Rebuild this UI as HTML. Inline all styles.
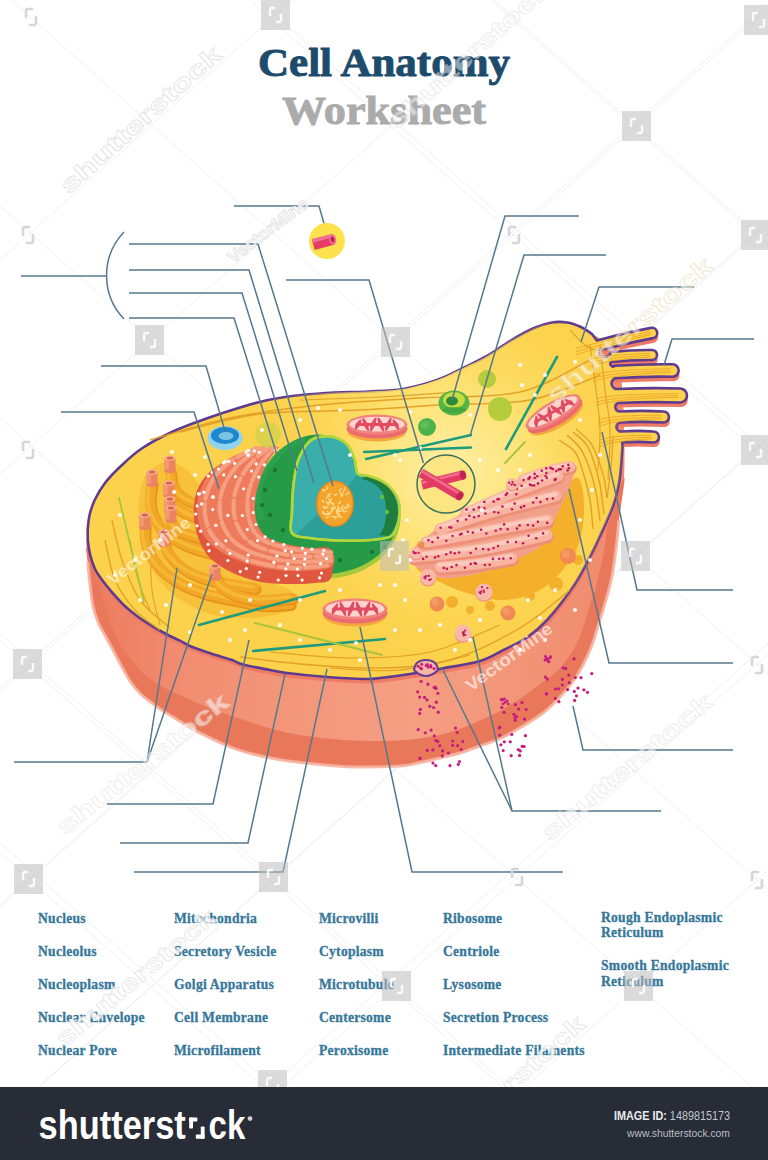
<!DOCTYPE html>
<html><head><meta charset="utf-8"><title>Cell Anatomy Worksheet</title>
<style>
html,body{margin:0;padding:0;background:#fff;}
body{width:768px;height:1160px;overflow:hidden;position:relative;font-family:"Liberation Sans",sans-serif;}
svg{position:absolute;left:0;top:0;}
.footer{position:absolute;left:0;top:1087px;width:768px;height:73px;background:#272c36;}
</style></head><body>
<svg width="768" height="1160" viewBox="0 0 768 1160">
<defs>
<radialGradient id="glow" cx="450" cy="470" r="190" gradientUnits="userSpaceOnUse">
<stop offset="0" stop-color="#fff0a6"/><stop offset="0.45" stop-color="#fde171"/><stop offset="1" stop-color="#fcd24c" stop-opacity="0"/></radialGradient>
<linearGradient id="salm" x1="0" y1="0" x2="1" y2="0">
<stop offset="0" stop-color="#ec7a5d"/><stop offset="0.18" stop-color="#f28d71"/><stop offset="0.6" stop-color="#f59f83"/><stop offset="1" stop-color="#f08a6c"/></linearGradient>
<clipPath id="mvclip"><rect x="613" y="300" width="100" height="160"/></clipPath>
</defs>

<g stroke="#e6e6e6" stroke-width="1" opacity="0.55"><line x1="-10" y1="-238.9" x2="780" y2="464.2"/><line x1="-10" y1="268.9" x2="780" y2="-434.2"/><line x1="-10" y1="-448.9" x2="780" y2="254.2"/><line x1="-10" y1="700.9" x2="780" y2="-2.2"/><line x1="-10" y1="-445.9" x2="780" y2="257.2"/><line x1="-10" y1="915.9" x2="780" y2="212.8"/><line x1="-10" y1="197.1" x2="780" y2="900.2"/><line x1="-10" y1="482.9" x2="780" y2="-220.2"/><line x1="-10" y1="-18.9" x2="780" y2="684.2"/><line x1="-10" y1="-230.9" x2="780" y2="472.2"/><line x1="-10" y1="1130.9" x2="780" y2="427.8"/><line x1="-10" y1="1129.9" x2="780" y2="426.8"/><line x1="-10" y1="631.1" x2="780" y2="1334.2"/><line x1="-10" y1="696.9" x2="780" y2="-6.2"/><line x1="-10" y1="844.1" x2="780" y2="1547.2"/><line x1="-10" y1="913.9" x2="780" y2="210.8"/><line x1="-10" y1="625.1" x2="780" y2="1328.2"/><line x1="-10" y1="1346.9" x2="780" y2="643.8"/><line x1="-10" y1="409.1" x2="780" y2="1112.2"/><line x1="-10" y1="1562.9" x2="780" y2="859.8"/><line x1="-10" y1="834.1" x2="780" y2="1537.2"/><line x1="-10" y1="1335.9" x2="780" y2="632.8"/></g>
<path d="M86.5,548.0 C86.5,542.3 87.2,533.7 87.8,528.0 C88.3,522.3 88.6,518.7 89.8,514.0 C91.0,509.3 92.2,505.2 94.7,500.0 C97.2,494.8 100.5,488.8 105.0,483.0 C109.5,477.2 115.8,470.8 122.0,465.0 C128.2,459.2 133.8,453.7 142.5,448.0 C151.2,442.3 163.6,435.8 174.0,431.0 C184.4,426.2 194.0,422.9 205.0,419.0 C216.0,415.1 229.5,410.7 240.0,407.5 C250.5,404.3 257.7,402.1 268.0,400.0 C278.3,397.9 290.8,396.2 302.0,395.0 C313.2,393.8 323.8,393.1 335.0,392.5 C346.2,391.9 357.7,392.1 369.0,391.5 C380.3,390.9 391.7,390.9 403.0,389.0 C414.3,387.1 427.0,383.5 437.0,380.0 C447.0,376.5 454.7,372.0 463.0,368.0 C471.3,364.0 479.2,360.5 487.0,356.0 C494.8,351.5 502.2,345.7 510.0,341.0 C517.8,336.3 527.0,331.1 534.0,328.0 C541.0,324.9 546.5,323.4 552.0,322.5 C557.5,321.6 562.2,321.8 567.0,322.5 C571.8,323.2 576.8,325.1 581.0,327.0 C585.2,328.9 588.5,331.8 592.0,334.0 C595.5,336.2 598.7,337.3 602.0,340.0 C605.3,342.7 609.0,345.0 612.0,350.0 C615.0,355.0 618.2,361.7 620.0,370.0 C621.8,378.3 622.3,390.8 623.0,400.0 C623.7,409.2 623.8,416.7 624.0,425.0 C624.2,433.3 624.5,441.2 624.5,450.0 C624.5,458.8 624.6,468.8 624.0,478.0 C623.4,487.2 621.9,498.0 621.0,505.0 C620.1,512.0 619.7,512.7 618.9,520.0 C618.1,527.3 617.2,539.2 616.0,548.7 C614.8,558.2 613.4,568.8 611.7,577.3 C610.0,585.8 608.2,592.3 606.0,600.0 C603.8,607.7 601.1,615.9 598.8,623.4 C596.4,630.9 594.5,638.4 592.0,645.0 C589.5,651.6 587.0,657.2 584.0,663.0 C581.0,668.8 578.0,674.3 574.0,680.0 C570.0,685.7 565.2,691.5 560.0,697.0 C554.8,702.5 549.2,708.2 543.0,713.0 C536.8,717.8 529.8,721.9 523.0,726.0 C516.2,730.1 509.4,734.3 502.5,737.5 C495.6,740.7 488.6,742.9 481.7,745.4 C474.8,747.9 467.8,750.6 460.8,752.7 C453.9,754.8 447.1,756.3 440.0,758.0 C432.9,759.7 424.7,761.7 418.0,763.0 C411.3,764.3 410.7,765.3 400.0,766.0 C389.3,766.7 368.2,767.3 354.0,767.0 C339.8,766.7 328.0,765.3 315.0,764.0 C302.0,762.7 288.9,761.4 275.8,759.0 C262.8,756.6 249.1,753.6 236.7,749.4 C224.3,745.2 212.2,739.1 201.6,733.8 C191.0,728.4 179.5,720.9 173.0,717.0 C166.5,713.1 166.0,712.9 162.5,710.6 C159.0,708.3 155.5,705.6 152.0,703.0 C148.5,700.4 145.2,698.4 141.7,695.0 C138.2,691.6 134.3,687.2 131.0,682.5 C127.7,677.8 124.9,672.2 122.0,667.0 C119.1,661.8 116.2,656.0 113.5,651.0 C110.8,646.0 108.6,641.8 106.0,637.0 C103.4,632.2 100.2,627.3 98.0,622.0 C95.8,616.7 94.2,612.0 92.8,605.0 C91.4,598.0 90.3,587.2 89.5,580.0 C88.7,572.8 88.3,567.3 87.8,562.0 C87.3,556.7 86.5,553.7 86.5,548.0 Z" fill="url(#salm)"/>
<path d="M86.5,548.0 C85.6,546.8 87.3,556.7 87.8,562.0 C88.3,567.3 88.7,572.8 89.5,580.0 C90.3,587.2 91.4,598.0 92.8,605.0 C94.2,612.0 95.8,616.7 98.0,622.0 C100.2,627.3 103.4,632.2 106.0,637.0 C108.6,641.8 110.8,646.0 113.5,651.0 C116.2,656.0 119.1,661.8 122.0,667.0 C124.9,672.2 127.7,677.8 131.0,682.5 C134.3,687.2 138.2,691.6 141.7,695.0 C145.2,698.4 148.5,700.4 152.0,703.0 C155.5,705.6 159.0,708.3 162.5,710.6 C166.0,712.9 166.5,713.1 173.0,717.0 C179.5,720.9 191.0,728.4 201.6,733.8 C212.2,739.1 224.3,745.2 236.7,749.4 C249.1,753.6 262.8,756.6 275.8,759.0 C288.9,761.4 302.0,762.7 315.0,764.0 C328.0,765.3 339.8,766.7 354.0,767.0 C368.2,767.3 392.3,766.2 400.0,766.0 C407.7,765.8 397.0,766.5 400.0,766.0 C403.0,765.5 411.3,764.3 418.0,763.0 C424.7,761.7 432.9,759.7 440.0,758.0 C447.1,756.3 453.9,754.8 460.8,752.7 C467.8,750.6 474.8,747.9 481.7,745.4 C488.6,742.9 495.6,740.7 502.5,737.5 C509.4,734.3 516.2,730.1 523.0,726.0 C529.8,721.9 536.8,717.8 543.0,713.0 C549.2,708.2 554.8,702.5 560.0,697.0 C565.2,691.5 570.0,685.7 574.0,680.0 C578.0,674.3 581.0,668.8 584.0,663.0 C587.0,657.2 589.5,651.6 592.0,645.0 C594.5,638.4 596.4,630.9 598.8,623.4 C601.1,615.9 603.8,607.7 606.0,600.0 C608.2,592.3 610.0,585.8 611.7,577.3 C613.4,568.8 614.8,558.2 616.0,548.7 C617.2,539.2 618.1,527.3 618.9,520.0 C619.7,512.7 620.1,512.0 621.0,505.0 C621.9,498.0 626.0,475.5 624.0,478.0 C622.0,480.5 612.2,508.2 609.0,520.0 C605.8,531.8 606.0,540.7 604.5,549.0 C603.0,557.3 601.7,562.8 600.0,570.0 C598.3,577.2 596.3,585.7 594.5,592.0 C592.7,598.3 590.9,602.0 589.0,608.0 C587.1,614.0 585.2,621.8 583.0,628.0 C580.8,634.2 578.8,639.5 576.0,645.0 C573.2,650.5 569.5,656.3 566.0,661.0 C562.5,665.7 559.5,669.0 555.0,673.0 C550.5,677.0 544.7,680.8 539.0,685.0 C533.3,689.2 527.5,693.7 521.0,698.0 C514.5,702.3 506.7,707.3 500.0,711.0 C493.3,714.7 487.5,717.1 481.0,720.0 C474.5,722.9 467.8,726.0 461.0,728.5 C454.2,731.0 447.7,733.2 440.0,735.0 C432.3,736.8 424.0,738.0 415.0,739.0 C406.0,740.0 398.0,740.8 386.0,741.0 C374.0,741.2 357.3,741.0 343.0,740.0 C328.7,739.0 313.0,737.2 300.0,735.0 C287.0,732.8 274.3,729.5 265.0,727.0 C255.7,724.5 251.0,722.3 244.0,720.0 C237.0,717.7 230.0,715.5 223.0,713.0 C216.0,710.5 208.8,707.8 202.0,705.0 C195.2,702.2 186.8,698.2 182.0,696.0 C177.2,693.8 176.2,693.5 173.0,692.0 C169.8,690.5 166.0,688.6 162.5,686.7 C159.0,684.8 155.5,682.9 152.0,680.4 C148.5,677.9 145.2,675.5 141.7,672.0 C138.2,668.5 134.7,663.9 131.2,659.6 C127.8,655.3 123.9,651.3 120.8,646.0 C117.7,640.7 115.0,634.2 112.5,628.0 C110.0,621.8 108.2,615.7 106.0,609.0 C103.8,602.3 101.2,594.7 99.0,588.0 C96.8,581.3 95.1,575.7 93.0,569.0 C90.9,562.3 87.4,549.2 86.5,548.0 Z" fill="#e9775a"/>
<path d="M618.9,520.0 C618.4,524.8 617.2,539.2 616.0,548.7 C614.8,558.2 613.4,568.8 611.7,577.3 C610.0,585.8 608.2,592.3 606.0,600.0 C603.8,607.7 601.1,615.9 598.8,623.4 C596.4,630.9 594.5,638.4 592.0,645.0 C589.5,651.6 587.0,657.2 584.0,663.0 C581.0,668.8 578.0,674.3 574.0,680.0 C570.0,685.7 565.2,691.5 560.0,697.0 C554.8,702.5 549.2,708.2 543.0,713.0 C536.8,717.8 529.8,721.9 523.0,726.0 C516.2,730.1 509.4,734.3 502.5,737.5 C495.6,740.7 488.6,742.9 481.7,745.4 C474.8,747.9 467.8,750.6 460.8,752.7 C453.9,754.8 447.1,756.3 440.0,758.0 C432.9,759.7 424.7,761.7 418.0,763.0 C411.3,764.3 410.7,765.3 400.0,766.0 C389.3,766.7 368.2,767.3 354.0,767.0 C339.8,766.7 328.0,765.3 315.0,764.0 C302.0,762.7 288.9,761.4 275.8,759.0 C262.8,756.6 249.1,753.6 236.7,749.4 C224.3,745.2 212.2,739.1 201.6,733.8 C191.0,728.4 179.5,720.9 173.0,717.0 C166.5,713.1 166.0,712.9 162.5,710.6 C159.0,708.3 155.5,705.6 152.0,703.0 C148.5,700.4 145.2,698.4 141.7,695.0 C138.2,691.6 134.3,687.2 131.0,682.5 C127.7,677.8 124.9,672.2 122.0,667.0 C119.1,661.8 116.2,656.0 113.5,651.0 C110.8,646.0 108.6,641.8 106.0,637.0 C103.4,632.2 100.2,627.3 98.0,622.0 C95.8,616.7 94.2,612.0 92.8,605.0 C91.4,598.0 90.3,587.2 89.5,580.0 C88.7,572.8 88.1,565.0 87.8,562.0" fill="none" stroke="#f7b3a0" stroke-width="3" opacity="0.9"/>
<path d="M87.8,541.0 C87.8,538.8 87.5,532.5 87.8,528.0 C88.1,523.5 88.6,518.7 89.8,514.0 C91.0,509.3 92.2,505.2 94.7,500.0 C97.2,494.8 100.5,488.8 105.0,483.0 C109.5,477.2 115.8,470.8 122.0,465.0 C128.2,459.2 133.8,453.7 142.5,448.0 C151.2,442.3 163.6,435.8 174.0,431.0 C184.4,426.2 194.0,422.9 205.0,419.0 C216.0,415.1 229.5,410.7 240.0,407.5 C250.5,404.3 257.7,402.1 268.0,400.0 C278.3,397.9 290.8,396.2 302.0,395.0 C313.2,393.8 323.8,393.1 335.0,392.5 C346.2,391.9 357.7,392.1 369.0,391.5 C380.3,390.9 391.7,390.9 403.0,389.0 C414.3,387.1 427.0,383.5 437.0,380.0 C447.0,376.5 454.7,372.0 463.0,368.0 C471.3,364.0 479.2,360.5 487.0,356.0 C494.8,351.5 502.2,345.7 510.0,341.0 C517.8,336.3 527.0,331.1 534.0,328.0 C541.0,324.9 546.5,323.4 552.0,322.5 C557.5,321.6 562.2,321.8 567.0,322.5 C571.8,323.2 576.8,325.1 581.0,327.0 C585.2,328.9 590.2,332.8 592.0,334.0 L596.8,340.4 Q623.6,333.0 650.8,327.9 A5.2,5.2 0 0 1 653.2,338.1 Q625.9,343.1 599.2,350.6 A5.8,5.8 0 0 0 610.8,352.0 Q631.2,349.8 651.8,350.0 A5.0,5.0 0 0 1 652.2,360.0 Q631.7,359.8 611.2,362.0 A2.6,2.6 0 0 0 614.8,365.8 Q643.6,363.9 672.3,364.3 A6.2,6.2 0 0 1 672.7,376.7 Q643.9,376.2 615.2,378.2 A5.6,5.6 0 0 0 617.9,389.0 Q648.9,387.6 679.9,388.5 A7.0,7.0 0 0 1 680.1,402.5 Q649.0,401.5 618.1,403.0 A4.4,4.4 0 0 0 620.0,411.5 Q641.8,410.3 663.5,411.5 A5.5,5.5 0 0 1 663.5,422.5 Q641.8,421.3 620.0,422.5 A4.6,4.6 0 0 0 622.0,431.5 Q637.8,430.3 653.5,431.5 A5.5,5.5 0 0 1 653.5,442.5 Q637.8,441.3 622.0,442.5 L622.5,446.0 C622.0,451.7 621.1,470.0 619.5,480.0 C617.9,490.0 616.7,495.8 613.0,506.0 C609.3,516.2 601.9,531.8 597.4,541.5 C592.9,551.2 590.3,556.5 586.0,564.4 C581.7,572.3 578.1,579.5 571.6,588.8 C565.1,598.1 554.4,611.9 547.0,620.0 C539.6,628.1 534.3,632.5 527.0,637.5 C519.7,642.5 511.2,646.1 503.4,650.0 C495.6,653.9 490.2,657.9 480.0,661.0 C469.8,664.1 453.7,666.3 442.0,668.5 C430.3,670.7 420.3,672.4 410.0,674.0 C399.7,675.6 387.5,677.2 380.0,678.0 C372.5,678.8 373.8,679.2 365.0,679.0 C356.2,678.8 340.0,678.0 327.0,677.0 C314.0,676.0 296.5,674.2 287.0,673.0 C277.5,671.8 277.3,671.4 270.0,670.0 C262.7,668.6 249.3,666.2 243.0,664.5 C236.7,662.8 237.3,661.8 232.0,660.0 C226.7,658.2 218.0,655.8 211.0,653.5 C204.0,651.2 195.2,648.1 190.0,646.0 C184.8,643.9 183.8,642.6 180.0,640.7 C176.2,638.8 171.1,636.6 167.0,634.5 C162.9,632.4 160.1,630.9 155.6,628.2 C151.1,625.5 144.8,621.8 140.0,618.3 C135.2,614.8 129.8,610.3 126.5,607.5 C123.2,604.7 122.8,604.1 120.2,601.3 C117.6,598.5 113.8,594.3 110.8,590.8 C107.8,587.3 105.1,584.0 102.5,580.4 C99.9,576.8 97.0,573.2 95.0,569.0 C93.0,564.8 91.4,559.7 90.2,555.0 C89.0,550.3 88.2,543.3 87.8,541.0 Z" fill="#ee7b66" transform="translate(0.8,4.6)"/>
<path d="M87.8,541.0 C87.8,538.8 87.5,532.5 87.8,528.0 C88.1,523.5 88.6,518.7 89.8,514.0 C91.0,509.3 92.2,505.2 94.7,500.0 C97.2,494.8 100.5,488.8 105.0,483.0 C109.5,477.2 115.8,470.8 122.0,465.0 C128.2,459.2 133.8,453.7 142.5,448.0 C151.2,442.3 163.6,435.8 174.0,431.0 C184.4,426.2 194.0,422.9 205.0,419.0 C216.0,415.1 229.5,410.7 240.0,407.5 C250.5,404.3 257.7,402.1 268.0,400.0 C278.3,397.9 290.8,396.2 302.0,395.0 C313.2,393.8 323.8,393.1 335.0,392.5 C346.2,391.9 357.7,392.1 369.0,391.5 C380.3,390.9 391.7,390.9 403.0,389.0 C414.3,387.1 427.0,383.5 437.0,380.0 C447.0,376.5 454.7,372.0 463.0,368.0 C471.3,364.0 479.2,360.5 487.0,356.0 C494.8,351.5 502.2,345.7 510.0,341.0 C517.8,336.3 527.0,331.1 534.0,328.0 C541.0,324.9 546.5,323.4 552.0,322.5 C557.5,321.6 562.2,321.8 567.0,322.5 C571.8,323.2 576.8,325.1 581.0,327.0 C585.2,328.9 590.2,332.8 592.0,334.0 L596.8,340.4 Q623.6,333.0 650.8,327.9 A5.2,5.2 0 0 1 653.2,338.1 Q625.9,343.1 599.2,350.6 A5.8,5.8 0 0 0 610.8,352.0 Q631.2,349.8 651.8,350.0 A5.0,5.0 0 0 1 652.2,360.0 Q631.7,359.8 611.2,362.0 A2.6,2.6 0 0 0 614.8,365.8 Q643.6,363.9 672.3,364.3 A6.2,6.2 0 0 1 672.7,376.7 Q643.9,376.2 615.2,378.2 A5.6,5.6 0 0 0 617.9,389.0 Q648.9,387.6 679.9,388.5 A7.0,7.0 0 0 1 680.1,402.5 Q649.0,401.5 618.1,403.0 A4.4,4.4 0 0 0 620.0,411.5 Q641.8,410.3 663.5,411.5 A5.5,5.5 0 0 1 663.5,422.5 Q641.8,421.3 620.0,422.5 A4.6,4.6 0 0 0 622.0,431.5 Q637.8,430.3 653.5,431.5 A5.5,5.5 0 0 1 653.5,442.5 Q637.8,441.3 622.0,442.5 L622.5,446.0 C622.0,451.7 621.1,470.0 619.5,480.0 C617.9,490.0 616.7,495.8 613.0,506.0 C609.3,516.2 601.9,531.8 597.4,541.5 C592.9,551.2 590.3,556.5 586.0,564.4 C581.7,572.3 578.1,579.5 571.6,588.8 C565.1,598.1 554.4,611.9 547.0,620.0 C539.6,628.1 534.3,632.5 527.0,637.5 C519.7,642.5 511.2,646.1 503.4,650.0 C495.6,653.9 490.2,657.9 480.0,661.0 C469.8,664.1 453.7,666.3 442.0,668.5 C430.3,670.7 420.3,672.4 410.0,674.0 C399.7,675.6 387.5,677.2 380.0,678.0 C372.5,678.8 373.8,679.2 365.0,679.0 C356.2,678.8 340.0,678.0 327.0,677.0 C314.0,676.0 296.5,674.2 287.0,673.0 C277.5,671.8 277.3,671.4 270.0,670.0 C262.7,668.6 249.3,666.2 243.0,664.5 C236.7,662.8 237.3,661.8 232.0,660.0 C226.7,658.2 218.0,655.8 211.0,653.5 C204.0,651.2 195.2,648.1 190.0,646.0 C184.8,643.9 183.8,642.6 180.0,640.7 C176.2,638.8 171.1,636.6 167.0,634.5 C162.9,632.4 160.1,630.9 155.6,628.2 C151.1,625.5 144.8,621.8 140.0,618.3 C135.2,614.8 129.8,610.3 126.5,607.5 C123.2,604.7 122.8,604.1 120.2,601.3 C117.6,598.5 113.8,594.3 110.8,590.8 C107.8,587.3 105.1,584.0 102.5,580.4 C99.9,576.8 97.0,573.2 95.0,569.0 C93.0,564.8 91.4,559.7 90.2,555.0 C89.0,550.3 88.2,543.3 87.8,541.0 Z" fill="#fcd24c" stroke="#5f3b8f" stroke-width="2.6" stroke-linejoin="round"/>
<path d="M87.8,541.0 C87.8,538.8 87.5,532.5 87.8,528.0 C88.1,523.5 88.6,518.7 89.8,514.0 C91.0,509.3 92.2,505.2 94.7,500.0 C97.2,494.8 100.5,488.8 105.0,483.0 C109.5,477.2 115.8,470.8 122.0,465.0 C128.2,459.2 133.8,453.7 142.5,448.0 C151.2,442.3 163.6,435.8 174.0,431.0 C184.4,426.2 194.0,422.9 205.0,419.0 C216.0,415.1 229.5,410.7 240.0,407.5 C250.5,404.3 257.7,402.1 268.0,400.0 C278.3,397.9 290.8,396.2 302.0,395.0 C313.2,393.8 323.8,393.1 335.0,392.5 C346.2,391.9 357.7,392.1 369.0,391.5 C380.3,390.9 391.7,390.9 403.0,389.0 C414.3,387.1 427.0,383.5 437.0,380.0 C447.0,376.5 454.7,372.0 463.0,368.0 C471.3,364.0 479.2,360.5 487.0,356.0 C494.8,351.5 502.2,345.7 510.0,341.0 C517.8,336.3 527.0,331.1 534.0,328.0 C541.0,324.9 546.5,323.4 552.0,322.5 C557.5,321.6 562.2,321.8 567.0,322.5 C571.8,323.2 576.8,325.1 581.0,327.0 C585.2,328.9 590.2,332.8 592.0,334.0 L596.8,340.4 Q623.6,333.0 650.8,327.9 A5.2,5.2 0 0 1 653.2,338.1 Q625.9,343.1 599.2,350.6 A5.8,5.8 0 0 0 610.8,352.0 Q631.2,349.8 651.8,350.0 A5.0,5.0 0 0 1 652.2,360.0 Q631.7,359.8 611.2,362.0 A2.6,2.6 0 0 0 614.8,365.8 Q643.6,363.9 672.3,364.3 A6.2,6.2 0 0 1 672.7,376.7 Q643.9,376.2 615.2,378.2 A5.6,5.6 0 0 0 617.9,389.0 Q648.9,387.6 679.9,388.5 A7.0,7.0 0 0 1 680.1,402.5 Q649.0,401.5 618.1,403.0 A4.4,4.4 0 0 0 620.0,411.5 Q641.8,410.3 663.5,411.5 A5.5,5.5 0 0 1 663.5,422.5 Q641.8,421.3 620.0,422.5 A4.6,4.6 0 0 0 622.0,431.5 Q637.8,430.3 653.5,431.5 A5.5,5.5 0 0 1 653.5,442.5 Q637.8,441.3 622.0,442.5 L622.5,446.0 C622.0,451.7 621.1,470.0 619.5,480.0 C617.9,490.0 616.7,495.8 613.0,506.0 C609.3,516.2 601.9,531.8 597.4,541.5 C592.9,551.2 590.3,556.5 586.0,564.4 C581.7,572.3 578.1,579.5 571.6,588.8 C565.1,598.1 554.4,611.9 547.0,620.0 C539.6,628.1 534.3,632.5 527.0,637.5 C519.7,642.5 511.2,646.1 503.4,650.0 C495.6,653.9 490.2,657.9 480.0,661.0 C469.8,664.1 453.7,666.3 442.0,668.5 C430.3,670.7 420.3,672.4 410.0,674.0 C399.7,675.6 387.5,677.2 380.0,678.0 C372.5,678.8 373.8,679.2 365.0,679.0 C356.2,678.8 340.0,678.0 327.0,677.0 C314.0,676.0 296.5,674.2 287.0,673.0 C277.5,671.8 277.3,671.4 270.0,670.0 C262.7,668.6 249.3,666.2 243.0,664.5 C236.7,662.8 237.3,661.8 232.0,660.0 C226.7,658.2 218.0,655.8 211.0,653.5 C204.0,651.2 195.2,648.1 190.0,646.0 C184.8,643.9 183.8,642.6 180.0,640.7 C176.2,638.8 171.1,636.6 167.0,634.5 C162.9,632.4 160.1,630.9 155.6,628.2 C151.1,625.5 144.8,621.8 140.0,618.3 C135.2,614.8 129.8,610.3 126.5,607.5 C123.2,604.7 122.8,604.1 120.2,601.3 C117.6,598.5 113.8,594.3 110.8,590.8 C107.8,587.3 105.1,584.0 102.5,580.4 C99.9,576.8 97.0,573.2 95.0,569.0 C93.0,564.8 91.4,559.7 90.2,555.0 C89.0,550.3 88.2,543.3 87.8,541.0 Z" fill="url(#glow)"/>
<g fill="none" stroke="#eba11f" stroke-width="0.8"><path d="M576,348.2 Q594,343.3 650,331.24" /><path d="M576,351.95 Q594,345.8 650,333.24" /><path d="M576,355.1 Q594,347.9 650,334.92" /><path d="M589,359.7 Q607,354.8 650,353.24" /><path d="M589,363.45 Q607,357.3 650,355.24" /><path d="M589,366.6 Q607,359.4 650,356.92" /><path d="M593,374.7 Q611,369.8 670.5,368.74" /><path d="M593,378.45 Q611,372.3 670.5,370.74" /><path d="M593,381.6 Q611,374.4 670.5,372.42" /><path d="M596,398.7 Q614,393.8 678,393.74" /><path d="M596,402.45 Q614,396.3 678,395.74" /><path d="M596,405.6 Q614,398.4 678,397.42" /><path d="M598,419.7 Q616,414.8 661.5,415.24" /><path d="M598,423.45 Q616,417.3 661.5,417.24" /><path d="M598,426.6 Q616,419.4 661.5,418.92" /><path d="M600,439.7 Q618,434.8 651.5,435.24" /><path d="M600,443.45 Q618,437.3 651.5,437.24" /><path d="M600,446.6 Q618,439.4 651.5,438.92" /></g>
<g><path d="M150.0,440.0 C163.3,436.3 201.7,423.8 230.0,418.0 C258.3,412.2 288.3,408.3 320.0,405.0 C351.7,401.7 386.7,400.2 420.0,398.0 C453.3,395.8 491.7,398.3 520.0,392.0 C548.3,385.7 578.3,365.3 590.0,360.0" fill="none" stroke="#e09b22" stroke-width="1.43" opacity="0.9"/><path d="M180.0,432.0 C193.3,429.0 230.0,417.7 260.0,414.0 C290.0,410.3 330.0,411.5 360.0,410.0 C390.0,408.5 411.7,406.7 440.0,405.0 C468.3,403.3 503.3,405.0 530.0,400.0 C556.7,395.0 588.3,379.2 600.0,375.0" fill="none" stroke="#e09b22" stroke-width="1.43" opacity="0.9"/><path d="M300.0,400.0 C313.3,399.5 353.3,398.3 380.0,397.0 C406.7,395.7 446.7,392.8 460.0,392.0" fill="none" stroke="#e09b22" stroke-width="1.17" opacity="0.9"/><path d="M240.0,657.0 C250.0,658.2 276.7,662.2 300.0,664.0 C323.3,665.8 355.0,668.7 380.0,668.0 C405.0,667.3 426.7,666.7 450.0,660.0 C473.3,653.3 500.0,639.7 520.0,628.0 C540.0,616.3 561.7,596.3 570.0,590.0" fill="none" stroke="#e09b22" stroke-width="1.43" opacity="0.9"/><path d="M270.0,652.0 C283.3,653.0 323.3,658.0 350.0,658.0 C376.7,658.0 405.0,657.5 430.0,652.0 C455.0,646.5 488.3,629.5 500.0,625.0" fill="none" stroke="#e09b22" stroke-width="1.17" opacity="0.9"/><path d="M330.0,668.0 C341.7,668.3 376.7,672.2 400.0,670.0 C423.3,667.8 458.3,657.5 470.0,655.0" fill="none" stroke="#e09b22" stroke-width="1.17" opacity="0.9"/><path d="M105.0,540.0 C106.7,546.7 110.0,568.3 115.0,580.0 C120.0,591.7 127.5,601.7 135.0,610.0 C142.5,618.3 155.8,626.7 160.0,630.0" fill="none" stroke="#e09b22" stroke-width="1.30" opacity="0.9"/><path d="M112.0,520.0 C113.7,526.7 117.3,546.7 122.0,560.0 C126.7,573.3 132.0,588.7 140.0,600.0 C148.0,611.3 165.0,623.3 170.0,628.0" fill="none" stroke="#e09b22" stroke-width="1.30" opacity="0.9"/><path d="M130.0,540.0 C131.3,546.7 134.7,568.3 138.0,580.0 C141.3,591.7 148.0,605.0 150.0,610.0" fill="none" stroke="#e09b22" stroke-width="1.17" opacity="0.9"/><path d="M150.0,540.0 C150.3,548.3 150.3,575.8 152.0,590.0 C153.7,604.2 158.7,619.2 160.0,625.0" fill="none" stroke="#e09b22" stroke-width="1.17" opacity="0.9"/><path d="M559.0,440.0 C561.7,442.0 571.0,446.7 575.0,452.0 C579.0,457.3 580.5,464.0 583.0,472.0 C585.5,480.0 588.3,490.5 590.0,500.0 C591.7,509.5 592.5,524.2 593.0,529.0" fill="none" stroke="#e09b22" stroke-width="1.43" opacity="0.9"/><path d="M567.0,435.0 C569.2,437.2 576.3,442.7 580.0,448.0 C583.7,453.3 586.3,459.7 589.0,467.0 C591.7,474.3 594.2,483.0 596.0,492.0 C597.8,501.0 599.3,516.2 600.0,521.0" fill="none" stroke="#e09b22" stroke-width="1.43" opacity="0.9"/><path d="M573.0,432.0 C575.2,434.0 582.7,439.5 586.0,444.0 C589.3,448.5 590.7,452.2 593.0,459.0 C595.3,465.8 598.2,475.8 600.0,485.0 C601.8,494.2 603.3,509.2 604.0,514.0" fill="none" stroke="#e09b22" stroke-width="1.43" opacity="0.9"/><path d="M576.0,429.0 C578.3,431.2 586.3,437.0 590.0,442.0 C593.7,447.0 595.7,453.0 598.0,459.0 C600.3,465.0 602.5,471.5 604.0,478.0 C605.5,484.5 606.5,494.7 607.0,498.0" fill="none" stroke="#e09b22" stroke-width="1.30" opacity="0.9"/><path d="M613.0,436.0 C612.7,441.2 612.0,456.7 611.0,467.0 C610.0,477.3 607.7,492.8 607.0,498.0" fill="none" stroke="#e09b22" stroke-width="1.30" opacity="0.9"/><path d="M600.0,345.0 C600.8,352.5 603.3,375.8 605.0,390.0 C606.7,404.2 609.5,415.0 610.0,430.0 C610.5,445.0 608.3,471.7 608.0,480.0" fill="none" stroke="#e09b22" stroke-width="1.17" opacity="0.9"/><path d="M590.0,345.0 C591.0,352.5 594.3,375.8 596.0,390.0 C597.7,404.2 599.7,416.7 600.0,430.0 C600.3,443.3 598.3,463.3 598.0,470.0" fill="none" stroke="#e09b22" stroke-width="1.17" opacity="0.9"/><path d="M570.0,330.0 C572.5,332.5 580.0,341.3 585.0,345.0 C590.0,348.7 597.5,350.8 600.0,352.0" fill="none" stroke="#e09b22" stroke-width="1.17" opacity="0.9"/></g>
<path d="M150.0,470.0 C155.0,465.0 163.0,461.2 170.0,462.0 C177.0,462.8 186.2,468.7 192.0,475.0 C197.8,481.3 201.2,489.2 205.0,500.0 C208.8,510.8 210.0,529.2 215.0,540.0 C220.0,550.8 227.2,558.3 235.0,565.0 C242.8,571.7 252.8,575.8 262.0,580.0 C271.2,584.2 285.0,585.3 290.0,590.0 C295.0,594.7 295.3,603.7 292.0,608.0 C288.7,612.3 278.7,614.3 270.0,616.0 C261.3,617.7 250.0,618.3 240.0,618.0 C230.0,617.7 219.3,616.7 210.0,614.0 C200.7,611.3 192.0,607.0 184.0,602.0 C176.0,597.0 168.3,591.7 162.0,584.0 C155.7,576.3 149.8,565.8 146.0,556.0 C142.2,546.2 140.0,535.7 139.0,525.0 C138.0,514.3 138.2,501.2 140.0,492.0 C141.8,482.8 145.0,475.0 150.0,470.0 Z" fill="#f7bf38" opacity="0.9"/>
<path d="M170.0,471.0 C170.5,473.5 170.7,481.5 173.0,486.0 C175.3,490.5 179.5,494.8 184.0,498.0 C188.5,501.2 197.3,503.8 200.0,505.0" fill="none" stroke="#e5931d" stroke-width="11" stroke-linecap="round" transform="translate(1.2,1.6)"/>
<path d="M170.0,471.0 C170.5,473.5 170.7,481.5 173.0,486.0 C175.3,490.5 179.5,494.8 184.0,498.0 C188.5,501.2 197.3,503.8 200.0,505.0" fill="none" stroke="#f2a726" stroke-width="10" stroke-linecap="round"/>
<path d="M170.0,471.0 C170.5,473.5 170.7,481.5 173.0,486.0 C175.3,490.5 179.5,494.8 184.0,498.0 C188.5,501.2 197.3,503.8 200.0,505.0" fill="none" stroke="#f6b936" stroke-width="3.5" stroke-linecap="round" transform="translate(-2.2,-1.2)"/>
<path d="M152.0,483.0 C151.7,485.8 149.8,494.7 150.0,500.0 C150.2,505.3 150.8,510.0 153.0,515.0 C155.2,520.0 158.5,525.5 163.0,530.0 C167.5,534.5 173.8,538.7 180.0,542.0 C186.2,545.3 192.5,547.7 200.0,550.0 C207.5,552.3 220.8,555.0 225.0,556.0" fill="none" stroke="#e5931d" stroke-width="11" stroke-linecap="round" transform="translate(1.2,1.6)"/>
<path d="M152.0,483.0 C151.7,485.8 149.8,494.7 150.0,500.0 C150.2,505.3 150.8,510.0 153.0,515.0 C155.2,520.0 158.5,525.5 163.0,530.0 C167.5,534.5 173.8,538.7 180.0,542.0 C186.2,545.3 192.5,547.7 200.0,550.0 C207.5,552.3 220.8,555.0 225.0,556.0" fill="none" stroke="#f2a726" stroke-width="10" stroke-linecap="round"/>
<path d="M152.0,483.0 C151.7,485.8 149.8,494.7 150.0,500.0 C150.2,505.3 150.8,510.0 153.0,515.0 C155.2,520.0 158.5,525.5 163.0,530.0 C167.5,534.5 173.8,538.7 180.0,542.0 C186.2,545.3 192.5,547.7 200.0,550.0 C207.5,552.3 220.8,555.0 225.0,556.0" fill="none" stroke="#f6b936" stroke-width="3.5" stroke-linecap="round" transform="translate(-2.2,-1.2)"/>
<path d="M169.0,494.0 C169.8,495.8 170.8,501.7 174.0,505.0 C177.2,508.3 182.8,511.5 188.0,514.0 C193.2,516.5 202.2,519.0 205.0,520.0" fill="none" stroke="#e5931d" stroke-width="11" stroke-linecap="round" transform="translate(1.2,1.6)"/>
<path d="M169.0,494.0 C169.8,495.8 170.8,501.7 174.0,505.0 C177.2,508.3 182.8,511.5 188.0,514.0 C193.2,516.5 202.2,519.0 205.0,520.0" fill="none" stroke="#f2a726" stroke-width="10" stroke-linecap="round"/>
<path d="M169.0,494.0 C169.8,495.8 170.8,501.7 174.0,505.0 C177.2,508.3 182.8,511.5 188.0,514.0 C193.2,516.5 202.2,519.0 205.0,520.0" fill="none" stroke="#f6b936" stroke-width="3.5" stroke-linecap="round" transform="translate(-2.2,-1.2)"/>
<path d="M171.0,522.0 C172.2,523.3 174.2,527.7 178.0,530.0 C181.8,532.3 188.7,534.3 194.0,536.0 C199.3,537.7 207.3,539.3 210.0,540.0" fill="none" stroke="#e5931d" stroke-width="11" stroke-linecap="round" transform="translate(1.2,1.6)"/>
<path d="M171.0,522.0 C172.2,523.3 174.2,527.7 178.0,530.0 C181.8,532.3 188.7,534.3 194.0,536.0 C199.3,537.7 207.3,539.3 210.0,540.0" fill="none" stroke="#f2a726" stroke-width="10" stroke-linecap="round"/>
<path d="M171.0,522.0 C172.2,523.3 174.2,527.7 178.0,530.0 C181.8,532.3 188.7,534.3 194.0,536.0 C199.3,537.7 207.3,539.3 210.0,540.0" fill="none" stroke="#f6b936" stroke-width="3.5" stroke-linecap="round" transform="translate(-2.2,-1.2)"/>
<path d="M145.0,525.0 C145.0,527.5 144.0,534.8 145.0,540.0 C146.0,545.2 147.8,550.7 151.0,556.0 C154.2,561.3 158.5,567.2 164.0,572.0 C169.5,576.8 176.7,581.3 184.0,585.0 C191.3,588.7 199.3,591.5 208.0,594.0 C216.7,596.5 227.0,598.2 236.0,600.0 C245.0,601.8 253.0,604.3 262.0,605.0 C271.0,605.7 285.3,604.2 290.0,604.0" fill="none" stroke="#e5931d" stroke-width="11" stroke-linecap="round" transform="translate(1.2,1.6)"/>
<path d="M145.0,525.0 C145.0,527.5 144.0,534.8 145.0,540.0 C146.0,545.2 147.8,550.7 151.0,556.0 C154.2,561.3 158.5,567.2 164.0,572.0 C169.5,576.8 176.7,581.3 184.0,585.0 C191.3,588.7 199.3,591.5 208.0,594.0 C216.7,596.5 227.0,598.2 236.0,600.0 C245.0,601.8 253.0,604.3 262.0,605.0 C271.0,605.7 285.3,604.2 290.0,604.0" fill="none" stroke="#f2a726" stroke-width="10" stroke-linecap="round"/>
<path d="M145.0,525.0 C145.0,527.5 144.0,534.8 145.0,540.0 C146.0,545.2 147.8,550.7 151.0,556.0 C154.2,561.3 158.5,567.2 164.0,572.0 C169.5,576.8 176.7,581.3 184.0,585.0 C191.3,588.7 199.3,591.5 208.0,594.0 C216.7,596.5 227.0,598.2 236.0,600.0 C245.0,601.8 253.0,604.3 262.0,605.0 C271.0,605.7 285.3,604.2 290.0,604.0" fill="none" stroke="#f6b936" stroke-width="3.5" stroke-linecap="round" transform="translate(-2.2,-1.2)"/>
<path d="M164.0,542.0 C164.7,543.8 165.3,549.0 168.0,553.0 C170.7,557.0 175.0,562.2 180.0,566.0 C185.0,569.8 190.5,573.2 198.0,576.0 C205.5,578.8 215.5,581.0 225.0,583.0 C234.5,585.0 250.0,587.2 255.0,588.0" fill="none" stroke="#e5931d" stroke-width="11" stroke-linecap="round" transform="translate(1.2,1.6)"/>
<path d="M164.0,542.0 C164.7,543.8 165.3,549.0 168.0,553.0 C170.7,557.0 175.0,562.2 180.0,566.0 C185.0,569.8 190.5,573.2 198.0,576.0 C205.5,578.8 215.5,581.0 225.0,583.0 C234.5,585.0 250.0,587.2 255.0,588.0" fill="none" stroke="#f2a726" stroke-width="10" stroke-linecap="round"/>
<path d="M164.0,542.0 C164.7,543.8 165.3,549.0 168.0,553.0 C170.7,557.0 175.0,562.2 180.0,566.0 C185.0,569.8 190.5,573.2 198.0,576.0 C205.5,578.8 215.5,581.0 225.0,583.0 C234.5,585.0 250.0,587.2 255.0,588.0" fill="none" stroke="#f6b936" stroke-width="3.5" stroke-linecap="round" transform="translate(-2.2,-1.2)"/>
<path d="M215.0,575.0 C216.0,576.8 217.2,582.5 221.0,586.0 C224.8,589.5 231.2,593.7 238.0,596.0 C244.8,598.3 253.0,599.7 262.0,600.0 C271.0,600.3 287.0,598.3 292.0,598.0" fill="none" stroke="#e5931d" stroke-width="11" stroke-linecap="round" transform="translate(1.2,1.6)"/>
<path d="M215.0,575.0 C216.0,576.8 217.2,582.5 221.0,586.0 C224.8,589.5 231.2,593.7 238.0,596.0 C244.8,598.3 253.0,599.7 262.0,600.0 C271.0,600.3 287.0,598.3 292.0,598.0" fill="none" stroke="#f2a726" stroke-width="10" stroke-linecap="round"/>
<path d="M215.0,575.0 C216.0,576.8 217.2,582.5 221.0,586.0 C224.8,589.5 231.2,593.7 238.0,596.0 C244.8,598.3 253.0,599.7 262.0,600.0 C271.0,600.3 287.0,598.3 292.0,598.0" fill="none" stroke="#f6b936" stroke-width="3.5" stroke-linecap="round" transform="translate(-2.2,-1.2)"/>
<g><rect x="164.5" y="458" width="11" height="13" fill="#ec8461"/><rect x="164.5" y="458" width="4.2" height="13" fill="#f29a76"/><ellipse cx="170" cy="471" rx="5.5" ry="2.2" fill="#ec8461"/><ellipse cx="170" cy="458" rx="5.5" ry="2.8" fill="#f7b296"/><ellipse cx="170" cy="458" rx="3.3" ry="1.5" fill="#d9664a"/></g>
<g><rect x="146.5" y="472" width="11" height="13" fill="#ec8461"/><rect x="146.5" y="472" width="4.2" height="13" fill="#f29a76"/><ellipse cx="152" cy="485" rx="5.5" ry="2.2" fill="#ec8461"/><ellipse cx="152" cy="472" rx="5.5" ry="2.8" fill="#f7b296"/><ellipse cx="152" cy="472" rx="3.3" ry="1.5" fill="#d9664a"/></g>
<g><rect x="163.5" y="483" width="11" height="13" fill="#ec8461"/><rect x="163.5" y="483" width="4.2" height="13" fill="#f29a76"/><ellipse cx="169" cy="496" rx="5.5" ry="2.2" fill="#ec8461"/><ellipse cx="169" cy="483" rx="5.5" ry="2.8" fill="#f7b296"/><ellipse cx="169" cy="483" rx="3.3" ry="1.5" fill="#d9664a"/></g>
<g><rect x="164.5" y="499" width="11" height="13" fill="#ec8461"/><rect x="164.5" y="499" width="4.2" height="13" fill="#f29a76"/><ellipse cx="170" cy="512" rx="5.5" ry="2.2" fill="#ec8461"/><ellipse cx="170" cy="499" rx="5.5" ry="2.8" fill="#f7b296"/><ellipse cx="170" cy="499" rx="3.3" ry="1.5" fill="#d9664a"/></g>
<g><rect x="165.5" y="508" width="11" height="13" fill="#ec8461"/><rect x="165.5" y="508" width="4.2" height="13" fill="#f29a76"/><ellipse cx="171" cy="521" rx="5.5" ry="2.2" fill="#ec8461"/><ellipse cx="171" cy="508" rx="5.5" ry="2.8" fill="#f7b296"/><ellipse cx="171" cy="508" rx="3.3" ry="1.5" fill="#d9664a"/></g>
<g><rect x="139.5" y="515" width="11" height="13" fill="#ec8461"/><rect x="139.5" y="515" width="4.2" height="13" fill="#f29a76"/><ellipse cx="145" cy="528" rx="5.5" ry="2.2" fill="#ec8461"/><ellipse cx="145" cy="515" rx="5.5" ry="2.8" fill="#f7b296"/><ellipse cx="145" cy="515" rx="3.3" ry="1.5" fill="#d9664a"/></g>
<g><rect x="158.5" y="532" width="11" height="13" fill="#ec8461"/><rect x="158.5" y="532" width="4.2" height="13" fill="#f29a76"/><ellipse cx="164" cy="545" rx="5.5" ry="2.2" fill="#ec8461"/><ellipse cx="164" cy="532" rx="5.5" ry="2.8" fill="#f7b296"/><ellipse cx="164" cy="532" rx="3.3" ry="1.5" fill="#d9664a"/></g>
<g><rect x="209.5" y="566" width="11" height="13" fill="#ec8461"/><rect x="209.5" y="566" width="4.2" height="13" fill="#f29a76"/><ellipse cx="215" cy="579" rx="5.5" ry="2.2" fill="#ec8461"/><ellipse cx="215" cy="566" rx="5.5" ry="2.8" fill="#f7b296"/><ellipse cx="215" cy="566" rx="3.3" ry="1.5" fill="#d9664a"/></g>
<path d="M358.0,474.0 C360.2,476.8 364.1,474.8 368.0,476.0 C371.9,477.2 377.7,478.8 381.6,481.0 C385.6,483.2 388.9,486.0 391.7,489.3 C394.5,492.6 397.2,496.7 398.5,501.0 C399.8,505.3 399.8,510.5 399.5,515.0 C399.2,519.5 398.4,523.7 397.0,528.0 C395.6,532.3 393.7,536.8 391.0,541.0 C388.3,545.2 385.0,549.3 381.0,553.0 C377.0,556.7 372.3,560.1 367.0,563.0 C361.7,565.9 355.7,568.7 349.0,570.5 C342.3,572.3 334.3,573.9 327.0,574.0 C319.7,574.1 312.0,572.8 305.0,571.0 C298.0,569.2 291.0,566.3 285.0,563.0 C279.0,559.7 273.3,555.7 269.0,551.0 C264.7,546.3 261.3,541.0 259.0,535.0 C256.7,529.0 255.5,521.8 255.0,515.0 C254.5,508.2 254.8,500.8 256.0,494.0 C257.2,487.2 259.2,480.2 262.0,474.0 C264.8,467.8 268.7,462.0 273.0,457.0 C277.3,452.0 283.0,447.3 288.0,444.0 C293.0,440.7 298.0,438.6 303.0,437.0 C308.0,435.4 312.5,434.4 318.0,434.5 C323.5,434.6 331.1,435.9 336.0,437.7 C340.9,439.5 344.6,441.8 347.7,445.3 C350.8,448.9 352.8,454.2 354.5,459.0 C356.2,463.8 355.8,471.2 358.0,474.0 Z" fill="#a5c93a" transform="translate(1,4.5)"/>
<path d="M358.0,474.0 C360.2,476.8 364.1,474.8 368.0,476.0 C371.9,477.2 377.7,478.8 381.6,481.0 C385.6,483.2 388.9,486.0 391.7,489.3 C394.5,492.6 397.2,496.7 398.5,501.0 C399.8,505.3 399.8,510.5 399.5,515.0 C399.2,519.5 398.4,523.7 397.0,528.0 C395.6,532.3 393.7,536.8 391.0,541.0 C388.3,545.2 385.0,549.3 381.0,553.0 C377.0,556.7 372.3,560.1 367.0,563.0 C361.7,565.9 355.7,568.7 349.0,570.5 C342.3,572.3 334.3,573.9 327.0,574.0 C319.7,574.1 312.0,572.8 305.0,571.0 C298.0,569.2 291.0,566.3 285.0,563.0 C279.0,559.7 273.3,555.7 269.0,551.0 C264.7,546.3 261.3,541.0 259.0,535.0 C256.7,529.0 255.5,521.8 255.0,515.0 C254.5,508.2 254.8,500.8 256.0,494.0 C257.2,487.2 259.2,480.2 262.0,474.0 C264.8,467.8 268.7,462.0 273.0,457.0 C277.3,452.0 283.0,447.3 288.0,444.0 C293.0,440.7 298.0,438.6 303.0,437.0 C308.0,435.4 312.5,434.4 318.0,434.5 C323.5,434.6 331.1,435.9 336.0,437.7 C340.9,439.5 344.6,441.8 347.7,445.3 C350.8,448.9 352.8,454.2 354.5,459.0 C356.2,463.8 355.8,471.2 358.0,474.0 Z" fill="#279a48"/>
<path d="M262.0,520.0 C261.3,515.8 257.3,503.3 258.0,495.0 C258.7,486.7 261.7,477.5 266.0,470.0 C270.3,462.5 277.5,455.0 284.0,450.0 C290.5,445.0 301.5,441.7 305.0,440.0" fill="none" stroke="#2eaa52" stroke-width="6" opacity="0.5"/>
<path d="M291.8,533.0 C288.8,528.7 291.9,518.7 292.0,512.0 C292.1,505.3 292.2,499.0 292.7,492.7 C293.2,486.4 294.0,479.6 295.0,474.0 C296.0,468.4 296.3,464.3 298.6,459.0 C300.9,453.7 305.1,445.7 308.8,442.0 C312.5,438.3 316.1,437.5 320.6,436.8 C325.1,436.1 331.4,436.3 335.9,437.7 C340.4,439.1 344.6,441.8 347.7,445.3 C350.8,448.9 352.8,454.2 354.5,459.0 C356.2,463.8 355.6,471.2 357.9,474.0 C360.1,476.8 364.1,474.6 368.0,475.8 C371.9,477.0 377.7,478.8 381.6,481.0 C385.6,483.2 388.9,486.0 391.7,489.3 C394.5,492.6 397.2,496.8 398.5,501.0 C399.8,505.2 399.6,510.4 399.3,514.7 C399.0,519.0 398.4,522.9 396.8,526.6 C395.2,530.3 394.5,534.5 390.0,536.7 C385.5,538.9 378.3,539.4 370.0,540.0 C361.7,540.6 350.0,540.8 340.0,540.5 C330.0,540.2 318.0,539.2 310.0,538.0 C302.0,536.8 294.8,537.3 291.8,533.0 Z" fill="#3aaeaa" stroke="#b3d63a" stroke-width="2.6" stroke-linejoin="round"/>
<path d="M297.0,534.0 C297.8,531.9 316.0,515.7 320.0,512.0 C324.0,508.3 341.8,493.2 345.0,490.0 C348.2,486.8 356.0,475.2 357.9,474.0 C359.8,472.8 366.0,475.2 368.0,475.8 C370.0,476.4 379.6,479.9 381.6,481.0 C383.6,482.1 390.3,487.6 391.7,489.3 C393.1,491.0 397.9,498.9 398.5,501.0 C399.1,503.1 399.4,512.6 399.3,514.7 C399.2,516.8 397.6,524.8 396.8,526.6 C396.0,528.4 392.2,535.7 390.0,536.7 C387.8,537.7 374.2,538.8 370.0,539.0 C365.8,539.2 345.0,539.7 340.0,539.5 C335.0,539.3 313.6,537.5 310.0,537.0 C306.4,536.5 296.2,536.1 297.0,534.0 Z" fill="#2c9f99"/>
<path d="M361,479 Q375,481 383,492.7 Q388,509 385,523 Q383,531 379,535 L389,536 Q397,527 398,514 Q398,501 391,489 Q382,480 368,476.5 Z" fill="#1f7e3e"/>
<circle cx="382" cy="497" r="2.2" fill="#5fbf4e"/><circle cx="387" cy="512" r="2.2" fill="#5fbf4e"/>
<path d="M291.8,533.0 C288.8,528.7 291.9,518.7 292.0,512.0 C292.1,505.3 292.2,499.0 292.7,492.7 C293.2,486.4 294.0,479.6 295.0,474.0 C296.0,468.4 296.3,464.3 298.6,459.0 C300.9,453.7 305.1,445.7 308.8,442.0 C312.5,438.3 316.1,437.5 320.6,436.8 C325.1,436.1 331.4,436.3 335.9,437.7 C340.4,439.1 344.6,441.8 347.7,445.3 C350.8,448.9 352.8,454.2 354.5,459.0 C356.2,463.8 355.6,471.2 357.9,474.0 C360.1,476.8 364.1,474.6 368.0,475.8 C371.9,477.0 377.7,478.8 381.6,481.0 C385.6,483.2 388.9,486.0 391.7,489.3 C394.5,492.6 397.2,496.8 398.5,501.0 C399.8,505.2 399.6,510.4 399.3,514.7 C399.0,519.0 398.4,522.9 396.8,526.6 C395.2,530.3 394.5,534.5 390.0,536.7 C385.5,538.9 378.3,539.4 370.0,540.0 C361.7,540.6 350.0,540.8 340.0,540.5 C330.0,540.2 318.0,539.2 310.0,538.0 C302.0,536.8 294.8,537.3 291.8,533.0 Z" fill="none" stroke="#b3d63a" stroke-width="2.4" stroke-linejoin="round"/>
<ellipse cx="335" cy="503.7" rx="18.2" ry="22.5" fill="#f4a42a"/>
<g fill="none" stroke="#fcd88a" stroke-width="1.3" stroke-linecap="round"><path d="M332.3,510.3 Q333.0,508.1 330.8,508.1"/><path d="M326.0,501.6 Q327.0,503.9 329.3,502.8"/><path d="M344.8,506.8 Q345.2,509.0 347.2,507.9"/><path d="M322.6,511.5 Q322.4,513.8 324.7,513.5"/><path d="M324.6,491.4 Q324.0,489.1 321.7,489.9"/><path d="M338.3,503.4 Q340.6,503.4 340.2,501.0"/><path d="M338.2,508.9 Q335.8,510.1 336.8,512.7"/><path d="M339.9,516.4 Q340.3,514.0 337.8,514.0"/><path d="M331.3,502.7 Q332.0,504.9 334.0,503.7"/><path d="M330.8,493.3 Q328.4,494.3 329.3,496.7"/><path d="M327.0,506.9 Q329.3,505.5 328.1,503.1"/><path d="M335.4,517.6 Q333.6,515.5 331.2,517.0"/><path d="M333.9,494.4 Q335.5,496.0 336.7,494.1"/><path d="M323.4,511.7 Q322.9,514.2 325.4,514.5"/><path d="M347.1,507.6 Q349.1,505.9 347.5,504.0"/><path d="M341.1,496.9 Q342.2,494.5 339.8,493.4"/><path d="M325.9,498.1 Q328.6,497.3 328.3,494.4"/><path d="M322.7,506.4 Q323.8,508.8 326.3,507.8"/><path d="M325.8,489.7 Q328.1,489.1 327.2,486.9"/><path d="M325.6,513.7 Q327.0,515.7 329.0,514.2"/><path d="M337.6,509.4 Q338.8,511.8 341.3,510.8"/><path d="M340.2,510.5 Q337.5,510.5 336.9,513.2"/><path d="M344.0,509.9 Q342.5,507.5 339.9,508.5"/><path d="M341.0,488.8 Q338.9,490.1 340.4,492.1"/><path d="M325.9,517.1 Q327.7,518.5 328.6,516.4"/><path d="M338.3,511.8 Q336.7,513.7 338.7,515.2"/><path d="M328.4,499.1 Q330.0,500.9 331.7,499.2"/><path d="M327.2,513.9 Q329.5,515.1 330.9,512.8"/><path d="M323.0,502.6 Q324.1,500.7 321.9,500.3"/><path d="M345.9,494.6 Q348.6,494.4 348.8,491.7"/><path d="M327.5,511.1 Q327.9,513.7 330.5,513.4"/><path d="M338.7,505.8 Q337.3,507.6 339.4,508.5"/><path d="M333.1,507.5 Q334.5,509.3 335.9,507.5"/><path d="M342.4,510.5 Q344.2,512.6 346.6,511.1"/><path d="M330.6,499.4 Q328.7,501.0 330.5,502.6"/><path d="M331.5,508.8 Q334.2,508.0 334.1,505.1"/><path d="M324.6,506.7 Q324.8,508.9 326.9,508.0"/><path d="M330.7,511.7 Q332.9,511.3 332.0,509.3"/><path d="M349.8,506.5 Q348.7,504.5 347.0,506.0"/><path d="M332.6,503.2 Q330.7,501.0 328.2,502.4"/><path d="M343.3,492.6 Q341.4,494.1 343.1,495.9"/><path d="M341.7,517.7 Q340.1,515.5 337.7,516.9"/><path d="M331.5,511.5 Q334.0,510.1 333.2,507.3"/><path d="M343.3,491.1 Q345.7,490.0 344.9,487.5"/><path d="M336.6,516.8 Q334.4,516.7 335.0,518.8"/><path d="M343.0,505.7 Q341.1,507.5 342.7,509.5"/></g>
<ellipse cx="335" cy="503.7" rx="18.2" ry="22.5" fill="none" stroke="#e8891f" stroke-width="1.5"/>
<g fill="#1a7434"><circle cx="265" cy="490" r="2.2"/><circle cx="275" cy="470" r="2.2"/><circle cx="283" cy="530" r="2.2"/><circle cx="270" cy="515" r="2.2"/><circle cx="262" cy="505" r="2.2"/><circle cx="308" cy="556" r="2.2"/><circle cx="340" cy="560" r="2.2"/><circle cx="372" cy="552" r="2.2"/><circle cx="385" cy="547" r="2.2"/></g>
<path d="M252.0,449.0 C248.8,450.3 239.7,453.5 233.0,457.0 C226.3,460.5 217.7,465.2 212.0,470.0 C206.3,474.8 202.0,480.2 199.0,486.0 C196.0,491.8 194.7,498.5 194.0,505.0 C193.3,511.5 194.0,518.8 195.0,525.0 C196.0,531.2 197.5,536.5 200.0,542.0 C202.5,547.5 205.2,553.2 210.0,558.0 C214.8,562.8 222.5,567.5 229.0,571.0 C235.5,574.5 242.5,577.0 249.0,579.0 C255.5,581.0 261.2,582.2 268.0,583.0 C274.8,583.8 282.2,584.0 290.0,584.0 C297.8,584.0 308.2,584.0 315.0,583.0 C321.8,582.0 328.3,583.5 331.0,578.0 C333.7,572.5 334.5,555.0 331.0,550.0 C327.5,545.0 316.8,548.8 310.0,548.0 C303.2,547.2 296.7,546.5 290.0,545.0 C283.3,543.5 275.2,541.8 270.0,539.0 C264.8,536.2 261.5,532.5 259.0,528.0 C256.5,523.5 255.5,517.7 255.0,512.0 C254.5,506.3 255.0,499.8 256.0,494.0 C257.0,488.2 259.0,482.5 261.0,477.0 C263.0,471.5 265.0,466.0 268.0,461.0 C271.0,456.0 277.2,449.3 279.0,447.0Z" fill="#e0573f"/>
<path d="M254.0,448.0 C250.7,449.3 240.7,452.5 234.0,456.0 C227.3,459.5 219.3,464.0 214.0,469.0 C208.7,474.0 204.8,480.0 202.0,486.0 C199.2,492.0 197.5,498.7 197.0,505.0 C196.5,511.3 197.3,518.2 199.0,524.0 C200.7,529.8 203.0,535.2 207.0,540.0 C211.0,544.8 216.7,549.2 223.0,553.0 C229.3,556.8 237.2,560.3 245.0,563.0 C252.8,565.7 261.2,567.7 270.0,569.0 C278.8,570.3 287.8,571.3 298.0,571.0 C308.2,570.7 325.5,570.5 331.0,567.0 C336.5,563.5 334.5,553.2 331.0,550.0 C327.5,546.8 316.8,548.8 310.0,548.0 C303.2,547.2 296.7,546.5 290.0,545.0 C283.3,543.5 275.2,541.8 270.0,539.0 C264.8,536.2 261.5,532.5 259.0,528.0 C256.5,523.5 255.5,517.7 255.0,512.0 C254.5,506.3 255.0,499.8 256.0,494.0 C257.0,488.2 259.0,482.5 261.0,477.0 C263.0,471.5 265.0,466.0 268.0,461.0 C271.0,456.0 277.2,449.3 279.0,447.0Z" fill="#ec7a5b"/>
<g fill="none" stroke="#f7a081" stroke-width="4.2" stroke-linecap="round"><path d="M257.0,447.9 C254.2,449.1 245.4,452.5 240.1,455.5 C234.7,458.5 229.3,461.8 224.7,465.9 C220.2,470.0 215.9,474.7 212.8,479.9 C209.6,485.1 207.1,491.1 205.8,497.1 C204.6,503.0 204.3,509.5 205.1,515.5 C206.0,521.5 207.8,527.9 210.8,533.1 C213.8,538.2 218.4,542.8 223.1,546.6 C227.8,550.4 233.5,553.4 239.1,556.0 C244.7,558.6 250.7,560.6 256.7,562.3 C262.7,564.0 268.8,565.4 275.0,566.3 C281.2,567.3 287.5,567.7 293.7,567.8 C299.9,567.9 306.2,567.4 312.4,566.9 C318.6,566.4 327.9,565.3 331.0,565.0" stroke-dasharray="22 5" stroke-dashoffset="0"/><path d="M263.5,447.6 C261.1,449.0 253.7,452.8 249.2,455.9 C244.8,459.1 240.3,462.5 236.6,466.5 C232.8,470.5 229.4,475.0 226.8,479.9 C224.1,484.7 222.0,490.1 220.8,495.5 C219.7,501.0 219.4,506.8 220.0,512.3 C220.6,517.8 221.9,523.5 224.3,528.4 C226.6,533.2 230.1,537.7 234.0,541.4 C238.0,545.1 243.0,548.2 248.0,550.7 C252.9,553.2 258.5,554.8 263.9,556.4 C269.3,558.0 274.8,559.3 280.4,560.2 C285.9,561.1 291.6,561.5 297.3,561.8 C302.9,562.0 308.5,561.7 314.1,561.5 C319.8,561.3 328.2,560.7 331.0,560.5" stroke-dasharray="16 4" stroke-dashoffset="7"/><path d="M269.5,447.4 C267.5,448.9 261.4,453.1 257.7,456.3 C254.1,459.6 250.6,463.2 247.6,467.1 C244.6,471.0 241.9,475.3 239.7,479.8 C237.6,484.3 235.7,489.2 234.7,494.2 C233.7,499.1 233.4,504.3 233.7,509.3 C234.0,514.3 234.9,519.4 236.6,524.0 C238.4,528.6 240.9,533.0 244.1,536.6 C247.3,540.3 251.7,543.4 256.1,545.8 C260.5,548.2 265.6,549.5 270.4,550.9 C275.3,552.4 280.3,553.6 285.3,554.5 C290.3,555.4 295.5,555.8 300.5,556.2 C305.6,556.5 310.7,556.6 315.8,556.6 C320.8,556.7 328.5,556.5 331.0,556.5" stroke-dasharray="18 5" stroke-dashoffset="3"/><path d="M275.5,447.1 C273.9,448.7 269.0,453.3 266.2,456.8 C263.4,460.2 260.8,463.8 258.5,467.7 C256.3,471.5 254.3,475.6 252.6,479.8 C251.0,484.0 249.4,488.3 248.5,492.8 C247.7,497.2 247.3,501.8 247.4,506.3 C247.5,510.8 247.9,515.4 249.0,519.6 C250.2,523.9 251.6,528.3 254.2,531.8 C256.7,535.4 260.5,538.6 264.3,540.9 C268.1,543.2 272.7,544.1 277.0,545.4 C281.4,546.8 285.8,547.9 290.3,548.8 C294.7,549.7 299.3,550.1 303.8,550.6 C308.3,551.1 312.9,551.4 317.4,551.7 C321.9,552.0 328.7,552.3 331.0,552.4" stroke-dasharray="14 4" stroke-dashoffset="9"/></g>
<g fill="#fff"><circle cx="245.9" cy="451.9" r="1.6"/><circle cx="228.5" cy="461.2" r="1.6"/><circle cx="218.5" cy="469.1" r="1.6"/><circle cx="203.9" cy="492.2" r="1.6"/><circle cx="201.6" cy="503.9" r="1.6"/><circle cx="216.3" cy="543.9" r="1.6"/><circle cx="229.9" cy="553.5" r="1.6"/><circle cx="247.2" cy="561.2" r="1.6"/><circle cx="285.9" cy="568.9" r="1.6"/><circle cx="297.3" cy="569.2" r="1.6"/><circle cx="254.3" cy="450.8" r="1.6"/><circle cx="234.6" cy="463.3" r="1.6"/><circle cx="223.8" cy="474.8" r="1.6"/><circle cx="212.7" cy="509.6" r="1.6"/><circle cx="215.9" cy="525.3" r="1.6"/><circle cx="225.9" cy="540.8" r="1.6"/><circle cx="248.3" cy="555.0" r="1.6"/><circle cx="273.9" cy="562.4" r="1.6"/><circle cx="287.9" cy="564.1" r="1.6"/><circle cx="304.4" cy="564.5" r="1.6"/><circle cx="320.5" cy="563.6" r="1.6"/><circle cx="259.3" cy="452.3" r="1.6"/><circle cx="235.4" cy="476.7" r="1.6"/><circle cx="227.9" cy="515.4" r="1.6"/><circle cx="277.0" cy="556.0" r="1.6"/><circle cx="294.1" cy="558.5" r="1.6"/><circle cx="304.9" cy="559.0" r="1.6"/><circle cx="326.4" cy="558.7" r="1.6"/><circle cx="256.3" cy="463.9" r="1.6"/><circle cx="251.5" cy="471.0" r="1.6"/><circle cx="243.7" cy="488.8" r="1.6"/><circle cx="242.4" cy="515.6" r="1.6"/><circle cx="247.3" cy="529.5" r="1.6"/><circle cx="257.6" cy="540.7" r="1.6"/><circle cx="285.2" cy="550.7" r="1.6"/><circle cx="291.5" cy="551.8" r="1.6"/><circle cx="305.4" cy="553.3" r="1.6"/><circle cx="323.0" cy="554.1" r="1.6"/><circle cx="275.3" cy="449.9" r="1.6"/><circle cx="264.5" cy="464.8" r="1.6"/><circle cx="258.7" cy="477.1" r="1.6"/><circle cx="253.2" cy="498.4" r="1.6"/><circle cx="253.2" cy="512.7" r="1.6"/><circle cx="256.0" cy="524.5" r="1.6"/><circle cx="265.1" cy="536.9" r="1.6"/><circle cx="272.9" cy="541.0" r="1.6"/><circle cx="283.8" cy="544.5" r="1.6"/><circle cx="302.3" cy="548.1" r="1.6"/><circle cx="311.9" cy="549.2" r="1.6"/><circle cx="323.8" cy="550.3" r="1.6"/><circle cx="248.5" cy="450.4" r="1.6"/><circle cx="223.5" cy="462.9" r="1.6"/><circle cx="208.3" cy="476.0" r="1.6"/><circle cx="198.4" cy="493.9" r="1.6"/><circle cx="195.7" cy="514.0" r="1.6"/><circle cx="197.0" cy="525.8" r="1.6"/><circle cx="209.1" cy="550.8" r="1.6"/><circle cx="240.2" cy="571.6" r="1.6"/><circle cx="258.1" cy="577.1" r="1.6"/><circle cx="278.2" cy="580.0" r="1.6"/><circle cx="302.1" cy="580.1" r="1.6"/><circle cx="319.6" cy="577.8" r="1.6"/><circle cx="225.4" cy="461.7" r="1.6"/><circle cx="212.5" cy="472.2" r="1.6"/><circle cx="199.5" cy="493.8" r="1.6"/><circle cx="197.1" cy="505.9" r="1.6"/><circle cx="200.7" cy="531.2" r="1.6"/><circle cx="208.1" cy="544.3" r="1.6"/><circle cx="227.9" cy="560.5" r="1.6"/><circle cx="246.3" cy="568.6" r="1.6"/><circle cx="259.6" cy="572.3" r="1.6"/><circle cx="286.0" cy="575.6" r="1.6"/><circle cx="298.0" cy="575.6" r="1.6"/><circle cx="321.5" cy="573.1" r="1.6"/></g>
<path d="M416.0,566.0 C416.0,572.2 431.0,577.3 440.0,582.0 C449.0,586.7 459.2,591.0 470.0,594.0 C480.8,597.0 493.3,600.7 505.0,600.0 C516.7,599.3 529.8,595.7 540.0,590.0 C550.2,584.3 559.3,574.3 566.0,566.0 C572.7,557.7 577.0,550.2 580.0,540.0 C583.0,529.8 584.3,515.3 584.0,505.0 C583.7,494.7 582.0,480.5 578.0,478.0 C574.0,475.5 573.0,483.0 560.0,490.0 C547.0,497.0 520.0,510.8 500.0,520.0 C480.0,529.2 454.0,537.3 440.0,545.0 C426.0,552.7 416.0,559.8 416.0,566.0 Z" fill="#f4b02a"/>
<circle cx="452" cy="602" r="6" fill="#f4b02a"/>
<circle cx="490" cy="606" r="5" fill="#f4b02a"/>
<circle cx="556" cy="584" r="7" fill="#f4b02a"/>
<circle cx="578" cy="560" r="5" fill="#f4b02a"/>
<circle cx="470" cy="610" r="4" fill="#f4b02a"/>
<circle cx="530" cy="596" r="5" fill="#f4b02a"/>
<path d="M468.0,510.0 C478.3,504.2 493.0,496.0 505.0,490.0 C517.0,484.0 529.7,478.5 540.0,474.0 C550.3,469.5 561.3,463.3 567.0,463.0 C572.7,462.7 574.2,466.7 574.0,472.0 C573.8,477.3 569.7,486.2 566.0,495.0 C562.3,503.8 555.3,517.2 552.0,525.0 C548.7,532.8 551.3,536.5 546.0,542.0 C540.7,547.5 531.0,552.8 520.0,558.0 C509.0,563.2 493.3,569.7 480.0,573.0 C466.7,576.3 451.0,579.3 440.0,578.0 C429.0,576.7 419.0,569.2 414.0,565.0 C409.0,560.8 408.2,557.5 410.0,553.0 C411.8,548.5 419.5,542.7 425.0,538.0 C430.5,533.3 435.8,529.7 443.0,525.0 C450.2,520.3 457.7,515.8 468.0,510.0 Z" fill="#f2a08a"/>
<path d="M523.0,480.0 C525.8,479.0 534.5,475.8 540.0,474.0 C545.5,472.2 551.0,470.2 556.0,469.0 C561.0,467.8 567.7,466.9 570.0,466.5" fill="none" stroke="#ee8f78" stroke-width="12.5" stroke-linecap="round" transform="translate(0.5,2.2)"/>
<path d="M523.0,480.0 C525.8,479.0 534.5,475.8 540.0,474.0 C545.5,472.2 551.0,470.2 556.0,469.0 C561.0,467.8 567.7,466.9 570.0,466.5" fill="none" stroke="#f8b4a1" stroke-width="11" stroke-linecap="round"/>
<path d="M523.0,480.0 C525.8,479.0 534.5,475.8 540.0,474.0 C545.5,472.2 551.0,470.2 556.0,469.0 C561.0,467.8 567.7,466.9 570.0,466.5" fill="none" stroke="#fbcbbd" stroke-width="4" stroke-linecap="round" transform="translate(-0.5,-2)"/>
<path d="M466.0,513.0 C471.3,510.7 487.3,503.5 498.0,499.0 C508.7,494.5 520.0,489.8 530.0,486.0 C540.0,482.2 553.3,477.7 558.0,476.0" fill="none" stroke="#ee8f78" stroke-width="12.5" stroke-linecap="round" transform="translate(0.5,2.2)"/>
<path d="M466.0,513.0 C471.3,510.7 487.3,503.5 498.0,499.0 C508.7,494.5 520.0,489.8 530.0,486.0 C540.0,482.2 553.3,477.7 558.0,476.0" fill="none" stroke="#f8b4a1" stroke-width="11" stroke-linecap="round"/>
<path d="M466.0,513.0 C471.3,510.7 487.3,503.5 498.0,499.0 C508.7,494.5 520.0,489.8 530.0,486.0 C540.0,482.2 553.3,477.7 558.0,476.0" fill="none" stroke="#fbcbbd" stroke-width="4" stroke-linecap="round" transform="translate(-0.5,-2)"/>
<path d="M440.0,529.0 C446.3,526.8 465.0,520.0 478.0,516.0 C491.0,512.0 505.0,508.3 518.0,505.0 C531.0,501.7 549.7,497.5 556.0,496.0" fill="none" stroke="#ee8f78" stroke-width="12.5" stroke-linecap="round" transform="translate(0.5,2.2)"/>
<path d="M440.0,529.0 C446.3,526.8 465.0,520.0 478.0,516.0 C491.0,512.0 505.0,508.3 518.0,505.0 C531.0,501.7 549.7,497.5 556.0,496.0" fill="none" stroke="#f8b4a1" stroke-width="11" stroke-linecap="round"/>
<path d="M440.0,529.0 C446.3,526.8 465.0,520.0 478.0,516.0 C491.0,512.0 505.0,508.3 518.0,505.0 C531.0,501.7 549.7,497.5 556.0,496.0" fill="none" stroke="#fbcbbd" stroke-width="4" stroke-linecap="round" transform="translate(-0.5,-2)"/>
<path d="M426.0,542.0 C432.7,540.8 452.3,537.5 466.0,535.0 C479.7,532.5 494.3,529.5 508.0,527.0 C521.7,524.5 541.3,521.2 548.0,520.0" fill="none" stroke="#ee8f78" stroke-width="12.5" stroke-linecap="round" transform="translate(0.5,2.2)"/>
<path d="M426.0,542.0 C432.7,540.8 452.3,537.5 466.0,535.0 C479.7,532.5 494.3,529.5 508.0,527.0 C521.7,524.5 541.3,521.2 548.0,520.0" fill="none" stroke="#f8b4a1" stroke-width="11" stroke-linecap="round"/>
<path d="M426.0,542.0 C432.7,540.8 452.3,537.5 466.0,535.0 C479.7,532.5 494.3,529.5 508.0,527.0 C521.7,524.5 541.3,521.2 548.0,520.0" fill="none" stroke="#fbcbbd" stroke-width="4" stroke-linecap="round" transform="translate(-0.5,-2)"/>
<path d="M414.0,557.0 C420.3,556.3 438.0,554.8 452.0,553.0 C466.0,551.2 482.2,549.0 498.0,546.0 C513.8,543.0 538.8,536.8 547.0,535.0" fill="none" stroke="#ee8f78" stroke-width="12.5" stroke-linecap="round" transform="translate(0.5,2.2)"/>
<path d="M414.0,557.0 C420.3,556.3 438.0,554.8 452.0,553.0 C466.0,551.2 482.2,549.0 498.0,546.0 C513.8,543.0 538.8,536.8 547.0,535.0" fill="none" stroke="#f8b4a1" stroke-width="11" stroke-linecap="round"/>
<path d="M414.0,557.0 C420.3,556.3 438.0,554.8 452.0,553.0 C466.0,551.2 482.2,549.0 498.0,546.0 C513.8,543.0 538.8,536.8 547.0,535.0" fill="none" stroke="#fbcbbd" stroke-width="4" stroke-linecap="round" transform="translate(-0.5,-2)"/>
<path d="M440.0,567.0 C446.0,566.5 464.0,565.5 476.0,564.0 C488.0,562.5 506.0,559.0 512.0,558.0" fill="none" stroke="#ee8f78" stroke-width="12.5" stroke-linecap="round" transform="translate(0.5,2.2)"/>
<path d="M440.0,567.0 C446.0,566.5 464.0,565.5 476.0,564.0 C488.0,562.5 506.0,559.0 512.0,558.0" fill="none" stroke="#f8b4a1" stroke-width="11" stroke-linecap="round"/>
<path d="M440.0,567.0 C446.0,566.5 464.0,565.5 476.0,564.0 C488.0,562.5 506.0,559.0 512.0,558.0" fill="none" stroke="#fbcbbd" stroke-width="4" stroke-linecap="round" transform="translate(-0.5,-2)"/>
<g fill="#c2185b"><circle cx="523.6" cy="480.1" r="1.3"/><circle cx="528.5" cy="478.6" r="1.3"/><circle cx="529.0" cy="478.5" r="1.3"/><circle cx="529.9" cy="477.1" r="1.3"/><circle cx="534.7" cy="478.0" r="1.3"/><circle cx="534.6" cy="473.9" r="1.3"/><circle cx="537.1" cy="476.3" r="1.3"/><circle cx="541.8" cy="470.8" r="1.3"/><circle cx="545.6" cy="476.0" r="1.3"/><circle cx="546.4" cy="473.0" r="1.3"/><circle cx="546.3" cy="468.4" r="1.3"/><circle cx="550.5" cy="467.9" r="1.3"/><circle cx="551.3" cy="468.3" r="1.3"/><circle cx="552.9" cy="469.0" r="1.3"/><circle cx="556.4" cy="471.1" r="1.3"/><circle cx="558.9" cy="469.4" r="1.3"/><circle cx="560.9" cy="469.2" r="1.3"/><circle cx="562.8" cy="466.3" r="1.3"/><circle cx="567.6" cy="470.5" r="1.3"/><circle cx="568.9" cy="468.3" r="1.3"/><circle cx="568.4" cy="464.9" r="1.3"/><circle cx="466.5" cy="509.5" r="1.3"/><circle cx="473.7" cy="509.6" r="1.3"/><circle cx="478.9" cy="507.4" r="1.3"/><circle cx="484.3" cy="508.2" r="1.3"/><circle cx="484.3" cy="502.0" r="1.3"/><circle cx="493.7" cy="501.6" r="1.3"/><circle cx="498.8" cy="499.0" r="1.3"/><circle cx="497.5" cy="499.2" r="1.3"/><circle cx="505.8" cy="494.9" r="1.3"/><circle cx="507.1" cy="493.4" r="1.3"/><circle cx="516.3" cy="494.2" r="1.3"/><circle cx="516.9" cy="488.9" r="1.3"/><circle cx="521.6" cy="485.8" r="1.3"/><circle cx="529.9" cy="484.6" r="1.3"/><circle cx="531.7" cy="485.2" r="1.3"/><circle cx="534.1" cy="485.5" r="1.3"/><circle cx="538.0" cy="483.4" r="1.3"/><circle cx="542.1" cy="480.5" r="1.3"/><circle cx="546.8" cy="478.0" r="1.3"/><circle cx="554.8" cy="479.9" r="1.3"/><circle cx="555.6" cy="479.0" r="1.3"/><circle cx="440.5" cy="527.7" r="1.3"/><circle cx="449.4" cy="527.3" r="1.3"/><circle cx="451.3" cy="527.6" r="1.3"/><circle cx="457.6" cy="521.0" r="1.3"/><circle cx="466.1" cy="519.5" r="1.3"/><circle cx="469.4" cy="515.9" r="1.3"/><circle cx="474.1" cy="517.2" r="1.3"/><circle cx="478.7" cy="516.1" r="1.3"/><circle cx="485.4" cy="513.5" r="1.3"/><circle cx="494.3" cy="512.0" r="1.3"/><circle cx="498.4" cy="512.8" r="1.3"/><circle cx="502.4" cy="506.6" r="1.3"/><circle cx="512.0" cy="509.2" r="1.3"/><circle cx="514.7" cy="503.6" r="1.3"/><circle cx="521.1" cy="507.4" r="1.3"/><circle cx="524.1" cy="506.1" r="1.3"/><circle cx="533.2" cy="502.5" r="1.3"/><circle cx="536.6" cy="498.0" r="1.3"/><circle cx="540.4" cy="502.1" r="1.3"/><circle cx="547.1" cy="499.1" r="1.3"/><circle cx="552.9" cy="498.5" r="1.3"/><circle cx="428.5" cy="540.3" r="1.3"/><circle cx="432.4" cy="542.0" r="1.3"/><circle cx="437.8" cy="537.8" r="1.3"/><circle cx="446.3" cy="540.8" r="1.3"/><circle cx="452.6" cy="536.0" r="1.3"/><circle cx="460.1" cy="534.5" r="1.3"/><circle cx="461.6" cy="533.9" r="1.3"/><circle cx="467.8" cy="531.8" r="1.3"/><circle cx="472.8" cy="532.6" r="1.3"/><circle cx="481.1" cy="529.8" r="1.3"/><circle cx="486.3" cy="533.5" r="1.3"/><circle cx="495.7" cy="530.8" r="1.3"/><circle cx="500.6" cy="529.1" r="1.3"/><circle cx="504.1" cy="524.4" r="1.3"/><circle cx="507.6" cy="529.3" r="1.3"/><circle cx="517.0" cy="528.6" r="1.3"/><circle cx="519.6" cy="525.4" r="1.3"/><circle cx="527.9" cy="525.0" r="1.3"/><circle cx="533.1" cy="525.6" r="1.3"/><circle cx="537.9" cy="521.7" r="1.3"/><circle cx="547.2" cy="522.9" r="1.3"/><circle cx="417.1" cy="558.1" r="1.3"/><circle cx="423.1" cy="558.9" r="1.3"/><circle cx="426.6" cy="556.8" r="1.3"/><circle cx="435.0" cy="557.4" r="1.3"/><circle cx="438.3" cy="556.3" r="1.3"/><circle cx="446.2" cy="554.3" r="1.3"/><circle cx="450.7" cy="552.4" r="1.3"/><circle cx="454.7" cy="553.3" r="1.3"/><circle cx="459.1" cy="552.5" r="1.3"/><circle cx="470.6" cy="553.0" r="1.3"/><circle cx="476.1" cy="548.8" r="1.3"/><circle cx="483.1" cy="549.0" r="1.3"/><circle cx="488.5" cy="549.6" r="1.3"/><circle cx="493.6" cy="548.0" r="1.3"/><circle cx="498.1" cy="546.1" r="1.3"/><circle cx="507.7" cy="542.1" r="1.3"/><circle cx="516.1" cy="542.1" r="1.3"/><circle cx="523.1" cy="543.2" r="1.3"/><circle cx="528.6" cy="535.7" r="1.3"/><circle cx="536.2" cy="538.3" r="1.3"/><circle cx="543.1" cy="533.4" r="1.3"/><circle cx="443.8" cy="567.9" r="1.3"/><circle cx="446.9" cy="568.9" r="1.3"/><circle cx="451.7" cy="567.0" r="1.3"/><circle cx="456.5" cy="565.1" r="1.3"/><circle cx="464.9" cy="567.7" r="1.3"/><circle cx="470.7" cy="563.9" r="1.3"/><circle cx="474.6" cy="563.0" r="1.3"/><circle cx="476.0" cy="563.7" r="1.3"/><circle cx="484.9" cy="565.0" r="1.3"/><circle cx="489.7" cy="564.8" r="1.3"/><circle cx="492.9" cy="558.9" r="1.3"/><circle cx="499.2" cy="558.7" r="1.3"/><circle cx="503.4" cy="558.6" r="1.3"/><circle cx="510.8" cy="558.3" r="1.3"/></g>
<circle cx="428" cy="578.5" r="8" fill="#ef9580"/><circle cx="428" cy="577" r="8" fill="#f9b9a8"/><circle cx="429.2" cy="580.1" r="1.1" fill="#c2185b"/><circle cx="425.3" cy="576.6" r="1.1" fill="#c2185b"/><circle cx="424.3" cy="577.6" r="1.1" fill="#c2185b"/><circle cx="430.8" cy="579.3" r="1.1" fill="#c2185b"/><circle cx="425.5" cy="578.4" r="1.1" fill="#c2185b"/><circle cx="428.9" cy="575.9" r="1.1" fill="#c2185b"/><circle cx="426.5" cy="576.0" r="1.1" fill="#c2185b"/>
<circle cx="484" cy="593.5" r="8.5" fill="#ef9580"/><circle cx="484" cy="592" r="8.5" fill="#f9b9a8"/><circle cx="479.7" cy="592.4" r="1.1" fill="#c2185b"/><circle cx="483.5" cy="590.5" r="1.1" fill="#c2185b"/><circle cx="487.4" cy="588.0" r="1.1" fill="#c2185b"/><circle cx="484.0" cy="592.0" r="1.1" fill="#c2185b"/><circle cx="480.7" cy="593.4" r="1.1" fill="#c2185b"/><circle cx="482.0" cy="587.2" r="1.1" fill="#c2185b"/><circle cx="480.9" cy="591.7" r="1.1" fill="#c2185b"/>
<circle cx="512" cy="485.5" r="6" fill="#ef9580"/><circle cx="512" cy="484" r="6" fill="#f9b9a8"/><circle cx="512.5" cy="482.1" r="1.1" fill="#c2185b"/><circle cx="513.3" cy="484.3" r="1.1" fill="#c2185b"/><circle cx="511.4" cy="484.6" r="1.1" fill="#c2185b"/><circle cx="509.1" cy="482.7" r="1.1" fill="#c2185b"/><circle cx="515.2" cy="485.2" r="1.1" fill="#c2185b"/>
<circle cx="463" cy="634.5" r="8.5" fill="#ef9580"/><circle cx="463" cy="633" r="8.5" fill="#f9b9a8"/><circle cx="465.2" cy="630.6" r="1.1" fill="#c2185b"/><circle cx="463.6" cy="632.1" r="1.1" fill="#c2185b"/><circle cx="463.6" cy="634.6" r="1.1" fill="#c2185b"/><circle cx="462.9" cy="632.8" r="1.1" fill="#c2185b"/><circle cx="463.7" cy="635.4" r="1.1" fill="#c2185b"/><circle cx="463.7" cy="632.6" r="1.1" fill="#c2185b"/><circle cx="465.2" cy="634.9" r="1.1" fill="#c2185b"/>
<circle cx="416" cy="554.5" r="6" fill="#ef9580"/><circle cx="416" cy="553" r="6" fill="#f9b9a8"/><circle cx="414.4" cy="553.2" r="1.1" fill="#c2185b"/><circle cx="414.1" cy="552.8" r="1.1" fill="#c2185b"/><circle cx="413.5" cy="551.9" r="1.1" fill="#c2185b"/><circle cx="418.7" cy="552.9" r="1.1" fill="#c2185b"/><circle cx="415.9" cy="553.2" r="1.1" fill="#c2185b"/>
<circle cx="437" cy="604" r="7.5" fill="#f08a52"/><circle cx="435" cy="602" r="3.8" fill="#f5a06a" opacity="0.7"/>
<circle cx="508" cy="613" r="7.5" fill="#f08a52"/><circle cx="506" cy="611" r="3.8" fill="#f5a06a" opacity="0.7"/>
<circle cx="568" cy="556" r="8" fill="#f08a52"/><circle cx="566" cy="554" r="4.0" fill="#f5a06a" opacity="0.7"/>
<circle cx="421" cy="545" r="3.5" fill="#f08a52"/><circle cx="419" cy="543" r="1.8" fill="#f5a06a" opacity="0.7"/>
<g transform="rotate(0 377 424.5)"><ellipse cx="377" cy="431.5" rx="29.5" ry="10" fill="#f4a73d"/><ellipse cx="377" cy="428.5" rx="30.5" ry="10" fill="#ec6b70"/><ellipse cx="377" cy="424.5" rx="30.5" ry="10" fill="#f1827c"/><ellipse cx="377" cy="424.2" rx="27.5" ry="7.4" fill="#fcd6cf"/><g fill="#e24b62"><polygon points="355.5,424.5 360.7,424.5 361.5,419.6 359.7,419.6"/><polygon points="355.5,424.5 360.7,424.5 356.5,429.4 354.7,429.4"/><polygon points="363.1,424.5 368.3,424.5 364.1,418.3 362.3,418.3"/><polygon points="363.1,424.5 368.3,424.5 369.1,430.7 367.3,430.7"/><polygon points="370.6,424.5 375.8,424.5 376.6,417.8 374.8,417.8"/><polygon points="370.6,424.5 375.8,424.5 371.6,431.2 369.8,431.2"/><polygon points="378.2,424.5 383.4,424.5 379.2,417.8 377.4,417.8"/><polygon points="378.2,424.5 383.4,424.5 384.2,431.2 382.4,431.2"/><polygon points="385.7,424.5 390.9,424.5 391.7,418.3 389.9,418.3"/><polygon points="385.7,424.5 390.9,424.5 386.7,430.7 384.9,430.7"/><polygon points="393.3,424.5 398.5,424.5 394.3,419.6 392.5,419.6"/><polygon points="393.3,424.5 398.5,424.5 399.3,429.4 397.5,429.4"/><rect x="355.6" y="423.1" width="42.7" height="2.8" rx="1.4"/></g></g>
<g transform="rotate(0 355 609)"><ellipse cx="355" cy="616" rx="31.5" ry="10.5" fill="#f4a73d"/><ellipse cx="355" cy="613" rx="32.5" ry="10.5" fill="#ec6b70"/><ellipse cx="355" cy="609" rx="32.5" ry="10.5" fill="#f1827c"/><ellipse cx="355" cy="608.7" rx="29.5" ry="7.9" fill="#fcd6cf"/><g fill="#e24b62"><polygon points="332.2,609 337.5,609 338.2,603.7 336.5,603.7"/><polygon points="332.2,609 337.5,609 333.2,614.3 331.5,614.3"/><polygon points="340.3,609 345.5,609 341.3,602.3 339.5,602.3"/><polygon points="340.3,609 345.5,609 346.3,615.7 344.5,615.7"/><polygon points="348.4,609 353.6,609 354.4,601.8 352.6,601.8"/><polygon points="348.4,609 353.6,609 349.4,616.2 347.6,616.2"/><polygon points="356.4,609 361.6,609 357.4,601.8 355.6,601.8"/><polygon points="356.4,609 361.6,609 362.4,616.2 360.6,616.2"/><polygon points="364.5,609 369.7,609 370.5,602.3 368.7,602.3"/><polygon points="364.5,609 369.7,609 365.5,615.7 363.7,615.7"/><polygon points="372.6,609 377.8,609 373.6,603.7 371.8,603.7"/><polygon points="372.6,609 377.8,609 378.6,614.3 376.8,614.3"/><rect x="332.2" y="607.6" width="45.5" height="2.8" rx="1.4"/></g></g>
<g transform="rotate(-30 553 412)"><ellipse cx="553" cy="419" rx="30" ry="10" fill="#f4a73d"/><ellipse cx="553" cy="416" rx="31" ry="10" fill="#ec6b70"/><ellipse cx="553" cy="412" rx="31" ry="10" fill="#f1827c"/><ellipse cx="553" cy="411.7" rx="28" ry="7.4" fill="#fcd6cf"/><g fill="#e24b62"><polygon points="531.2,412 536.4,412 537.2,407.1 535.4,407.1"/><polygon points="531.2,412 536.4,412 532.2,416.9 530.4,416.9"/><polygon points="538.9,412 544.1,412 539.9,405.8 538.1,405.8"/><polygon points="538.9,412 544.1,412 544.9,418.2 543.1,418.2"/><polygon points="546.6,412 551.8,412 552.6,405.3 550.8,405.3"/><polygon points="546.6,412 551.8,412 547.6,418.7 545.8,418.7"/><polygon points="554.2,412 559.4,412 555.2,405.3 553.4,405.3"/><polygon points="554.2,412 559.4,412 560.2,418.7 558.4,418.7"/><polygon points="561.9,412 567.1,412 567.9,405.8 566.1,405.8"/><polygon points="561.9,412 567.1,412 562.9,418.2 561.1,418.2"/><polygon points="569.6,412 574.8,412 570.6,407.1 568.8,407.1"/><polygon points="569.6,412 574.8,412 575.6,416.9 573.8,416.9"/><rect x="531.3" y="410.6" width="43.4" height="2.8" rx="1.4"/></g></g>
<circle cx="268" cy="435" r="13" fill="#c5d04a" opacity="0.55"/>
<circle cx="487" cy="379" r="9" fill="#b5cd3a"/>
<circle cx="500" cy="409" r="12" fill="#b5cd3a"/>
<circle cx="427" cy="427" r="9" fill="#4cb34d"/><circle cx="425" cy="425" r="4" fill="#6cc45b" opacity="0.6"/>
<ellipse cx="454" cy="403" rx="15.5" ry="12.5" fill="#53b447"/><ellipse cx="454" cy="400" rx="11" ry="8" fill="#c8dc42"/><ellipse cx="452" cy="401" rx="6" ry="4.5" fill="#2e8b3e"/><ellipse cx="454" cy="410" rx="12" ry="3" fill="#3f9c3a" opacity="0.6"/>
<ellipse cx="225" cy="438" rx="17.5" ry="12" fill="#8fd3ee"/><ellipse cx="225" cy="435.5" rx="14" ry="8.5" fill="#1f88cc"/><ellipse cx="226" cy="436" rx="7.5" ry="4" fill="#8ccfe6" opacity="0.85"/>
<line x1="199" y1="625" x2="325" y2="591" stroke="#1d9b7c" stroke-width="2.6" stroke-linecap="round"/>
<line x1="253" y1="651" x2="385" y2="639" stroke="#1d9b7c" stroke-width="2.6" stroke-linecap="round"/>
<line x1="255" y1="623" x2="382" y2="655" stroke="#a9c43c" stroke-width="2.2" stroke-linecap="round"/>
<line x1="364" y1="452" x2="471" y2="447.5" stroke="#1d9b7c" stroke-width="2.4" stroke-linecap="round"/>
<line x1="366" y1="459" x2="471" y2="435" stroke="#1d9b7c" stroke-width="2.4" stroke-linecap="round"/>
<line x1="557" y1="357" x2="506" y2="449" stroke="#1d9b7c" stroke-width="2.6" stroke-linecap="round"/>
<line x1="505" y1="463" x2="525" y2="442" stroke="#a9c43c" stroke-width="2.0" stroke-linecap="round"/>
<line x1="119" y1="498" x2="144" y2="602" stroke="#a9c43c" stroke-width="1.8" stroke-linecap="round"/>
<circle cx="446" cy="484" r="29" fill="#fde682" stroke="#3b6f5e" stroke-width="1.5"/>
<line x1="422" y1="485" x2="463" y2="475" stroke="#e23a64" stroke-width="9.4" stroke-linecap="butt"/><line x1="422" y1="482.65" x2="463" y2="472.65" stroke="#f06b8a" stroke-width="2.82"/>
<ellipse cx="463" cy="475" rx="3.2" ry="4.6" fill="#c42451" transform="rotate(-14 463 475)"/>
<line x1="421" y1="473" x2="460" y2="496" stroke="#e23a64" stroke-width="9.4" stroke-linecap="butt"/><line x1="421" y1="470.65" x2="460" y2="493.65" stroke="#f06b8a" stroke-width="2.82"/>
<ellipse cx="460" cy="496" rx="3.2" ry="4.6" fill="#c42451" transform="rotate(30 460 496)"/>
<path d="M414,670 Q415,660 426,660 Q437,660 438,670 Q432,676 426,676 Q420,676 414,670 Z" fill="#f6b8a5" stroke="#6a3d93" stroke-width="2"/>
<g fill="#c41d7f"><circle cx="420.6" cy="668.1" r="1.5"/><circle cx="428.2" cy="666.9" r="1.5"/><circle cx="421.5" cy="668.8" r="1.5"/><circle cx="430.9" cy="667.1" r="1.5"/><circle cx="426.1" cy="665.4" r="1.5"/><circle cx="418.1" cy="666.2" r="1.5"/><circle cx="427.4" cy="664.4" r="1.5"/><circle cx="430.7" cy="665.4" r="1.5"/><circle cx="421.7" cy="664.3" r="1.5"/><circle cx="434.0" cy="668.4" r="1.5"/><circle cx="436.3" cy="702.2" r="1.6"/><circle cx="417.7" cy="691.8" r="1.6"/><circle cx="427.9" cy="684.2" r="1.6"/><circle cx="437.9" cy="693.3" r="1.6"/><circle cx="420.4" cy="709.4" r="1.6"/><circle cx="419.7" cy="713.4" r="1.6"/><circle cx="427.0" cy="699.9" r="1.6"/><circle cx="424.5" cy="697.4" r="1.6"/><circle cx="421.1" cy="681.3" r="1.6"/><circle cx="436.0" cy="688.5" r="1.6"/><circle cx="434.2" cy="687.5" r="1.6"/><circle cx="438.3" cy="712.2" r="1.6"/><circle cx="433.6" cy="707.5" r="1.6"/><circle cx="429.8" cy="706.3" r="1.6"/><circle cx="419.7" cy="697.1" r="1.6"/><circle cx="435.2" cy="687.2" r="1.6"/><circle cx="459.5" cy="761.5" r="1.6"/><circle cx="435.8" cy="740.6" r="1.6"/><circle cx="437.8" cy="741.4" r="1.6"/><circle cx="462.8" cy="741.5" r="1.6"/><circle cx="418.2" cy="729.7" r="1.6"/><circle cx="450.0" cy="765.7" r="1.6"/><circle cx="439.8" cy="745.7" r="1.6"/><circle cx="442.3" cy="755.9" r="1.6"/><circle cx="427.2" cy="750.4" r="1.6"/><circle cx="442.6" cy="750.9" r="1.6"/><circle cx="425.3" cy="732.8" r="1.6"/><circle cx="433.0" cy="763.1" r="1.6"/><circle cx="432.9" cy="749.9" r="1.6"/><circle cx="431.1" cy="730.1" r="1.6"/><circle cx="420.0" cy="758.5" r="1.6"/><circle cx="452.7" cy="741.0" r="1.6"/><circle cx="448.4" cy="753.0" r="1.6"/><circle cx="458.3" cy="764.3" r="1.6"/><circle cx="435.7" cy="765.6" r="1.6"/><circle cx="461.2" cy="749.6" r="1.6"/><circle cx="457.6" cy="745.6" r="1.6"/><circle cx="434.3" cy="735.9" r="1.6"/><circle cx="457.3" cy="732.5" r="1.6"/><circle cx="420.2" cy="758.2" r="1.6"/><circle cx="452.6" cy="745.3" r="1.6"/><circle cx="455.5" cy="728.1" r="1.6"/><circle cx="503.1" cy="699.7" r="1.4"/><circle cx="504.4" cy="699.0" r="1.4"/><circle cx="501.6" cy="700.0" r="1.4"/><circle cx="508.2" cy="703.9" r="1.4"/><circle cx="507.0" cy="700.9" r="1.4"/><circle cx="503.0" cy="703.8" r="1.4"/><circle cx="505.2" cy="702.4" r="1.4"/><circle cx="501.2" cy="699.3" r="1.4"/><circle cx="524.1" cy="746.5" r="1.6"/><circle cx="525.4" cy="735.7" r="1.6"/><circle cx="511.8" cy="734.5" r="1.6"/><circle cx="524.5" cy="719.2" r="1.6"/><circle cx="515.0" cy="717.5" r="1.6"/><circle cx="522.0" cy="702.6" r="1.6"/><circle cx="519.6" cy="755.4" r="1.6"/><circle cx="499.7" cy="735.2" r="1.6"/><circle cx="518.3" cy="749.7" r="1.6"/><circle cx="516.5" cy="716.4" r="1.6"/><circle cx="511.2" cy="755.7" r="1.6"/><circle cx="526.2" cy="709.5" r="1.6"/><circle cx="501.8" cy="707.3" r="1.6"/><circle cx="499.8" cy="727.0" r="1.6"/><circle cx="503.2" cy="750.6" r="1.6"/><circle cx="518.7" cy="709.1" r="1.6"/><circle cx="515.2" cy="720.2" r="1.6"/><circle cx="513.8" cy="714.3" r="1.6"/><circle cx="504.0" cy="712.3" r="1.6"/><circle cx="510.3" cy="741.8" r="1.6"/><circle cx="515.5" cy="704.6" r="1.6"/><circle cx="520.3" cy="750.9" r="1.6"/><circle cx="522.2" cy="746.3" r="1.6"/><circle cx="499.2" cy="728.0" r="1.6"/><circle cx="500.9" cy="744.8" r="1.6"/><circle cx="504.3" cy="741.8" r="1.6"/><circle cx="545.0" cy="660.2" r="1.4"/><circle cx="545.5" cy="656.3" r="1.4"/><circle cx="546.1" cy="657.9" r="1.4"/><circle cx="550.2" cy="657.8" r="1.4"/><circle cx="547.0" cy="659.3" r="1.4"/><circle cx="550.6" cy="656.6" r="1.4"/><circle cx="547.8" cy="659.0" r="1.4"/><circle cx="548.9" cy="661.8" r="1.4"/><circle cx="558.5" cy="688.8" r="1.6"/><circle cx="569.3" cy="682.7" r="1.6"/><circle cx="546.2" cy="693.8" r="1.6"/><circle cx="591.8" cy="673.6" r="1.6"/><circle cx="558.9" cy="701.7" r="1.6"/><circle cx="548.4" cy="661.3" r="1.6"/><circle cx="546.7" cy="693.8" r="1.6"/><circle cx="581.0" cy="677.7" r="1.6"/><circle cx="574.1" cy="658.9" r="1.6"/><circle cx="575.2" cy="677.5" r="1.6"/><circle cx="568.9" cy="675.1" r="1.6"/><circle cx="563.1" cy="667.9" r="1.6"/><circle cx="545.4" cy="677.1" r="1.6"/><circle cx="555.4" cy="689.0" r="1.6"/><circle cx="583.9" cy="689.8" r="1.6"/><circle cx="565.8" cy="668.4" r="1.6"/><circle cx="562.3" cy="679.4" r="1.6"/><circle cx="574.6" cy="700.4" r="1.6"/><circle cx="547.3" cy="679.1" r="1.6"/><circle cx="567.6" cy="689.6" r="1.6"/><circle cx="587.5" cy="692.3" r="1.6"/><circle cx="574.3" cy="691.4" r="1.6"/><circle cx="576.4" cy="695.8" r="1.6"/><circle cx="578.0" cy="688.1" r="1.6"/><circle cx="555.3" cy="698.3" r="1.6"/><circle cx="562.3" cy="685.0" r="1.6"/></g>
<g fill="#fff" opacity="0.9"><circle cx="172" cy="452" r="2.1"/><circle cx="205" cy="457" r="2.1"/><circle cx="195" cy="475" r="2.1"/><circle cx="213" cy="497" r="2.1"/><circle cx="174" cy="492" r="2.1"/><circle cx="120" cy="515" r="2.1"/><circle cx="115" cy="575" r="2.1"/><circle cx="135" cy="560" r="2.1"/><circle cx="190" cy="585" r="2.1"/><circle cx="166" cy="605" r="2.1"/><circle cx="222" cy="612" r="2.1"/><circle cx="245" cy="630" r="2.1"/><circle cx="190" cy="632" r="2.1"/><circle cx="262" cy="430" r="2.1"/><circle cx="248" cy="455" r="2.1"/><circle cx="300" cy="420" r="2.1"/><circle cx="318" cy="408" r="2.1"/><circle cx="340" cy="410" r="2.1"/><circle cx="410" cy="412" r="2.1"/><circle cx="420" cy="448" r="2.1"/><circle cx="400" cy="460" r="2.1"/><circle cx="350" cy="455" r="2.1"/><circle cx="395" cy="455" r="2.1"/><circle cx="470" cy="415" r="2.1"/><circle cx="520" cy="365" r="2.1"/><circle cx="545" cy="375" r="2.1"/><circle cx="522" cy="385" r="2.1"/><circle cx="535" cy="395" r="2.1"/><circle cx="575" cy="362" r="2.1"/><circle cx="580" cy="420" r="2.1"/><circle cx="520" cy="470" r="2.1"/><circle cx="498" cy="470" r="2.1"/><circle cx="480" cy="460" r="2.1"/><circle cx="530" cy="455" r="2.1"/><circle cx="482" cy="510" r="2.1"/><circle cx="407" cy="520" r="2.1"/><circle cx="403" cy="540" r="2.1"/><circle cx="410" cy="560" r="2.1"/><circle cx="395" cy="585" r="2.1"/><circle cx="405" cy="600" r="2.1"/><circle cx="380" cy="585" r="2.1"/><circle cx="340" cy="590" r="2.1"/><circle cx="300" cy="600" r="2.1"/><circle cx="280" cy="625" r="2.1"/><circle cx="300" cy="640" r="2.1"/><circle cx="330" cy="650" r="2.1"/><circle cx="356" cy="643" r="2.1"/><circle cx="395" cy="630" r="2.1"/><circle cx="420" cy="630" r="2.1"/><circle cx="440" cy="625" r="2.1"/><circle cx="455" cy="650" r="2.1"/><circle cx="480" cy="620" r="2.1"/><circle cx="528" cy="600" r="2.1"/><circle cx="540" cy="618" r="2.1"/><circle cx="555" cy="590" r="2.1"/><circle cx="580" cy="520" r="2.1"/><circle cx="592" cy="490" r="2.1"/><circle cx="575" cy="610" r="2.1"/><circle cx="520" cy="650" r="2.1"/><circle cx="360" cy="660" r="2.1"/><circle cx="250" cy="600" r="2.1"/><circle cx="160" cy="540" r="2.1"/><circle cx="140" cy="600" r="2.1"/><circle cx="230" cy="640" r="2.1"/><circle cx="470" cy="640" r="2.1"/><circle cx="545" cy="640" r="2.1"/><circle cx="590" cy="560" r="2.1"/><circle cx="600" cy="455" r="2.1"/></g>
<g fill="none" stroke="#55788c" stroke-width="1.5" stroke-linejoin="miter"><polyline points="21.0,276.0 107.0,276.0"/><polyline points="129.0,244.0 258.0,244.0 333.0,486.0"/><polyline points="129.0,270.0 249.0,270.0 314.0,483.0"/><polyline points="129.0,293.0 242.0,293.0 297.0,471.0"/><polyline points="129.0,318.0 234.0,318.0 277.0,455.0"/><polyline points="101.0,366.0 206.0,366.0 225.0,431.0"/><polyline points="61.0,412.0 194.0,412.0 219.0,489.0"/><polyline points="234.0,206.0 319.0,206.0 325.0,227.0"/><polyline points="286.0,280.0 369.0,280.0 423.4,463.0"/><polyline points="579.0,216.0 505.0,216.0 452.0,400.0"/><polyline points="606.0,255.0 524.0,255.0 470.0,436.0"/><polyline points="694.0,287.0 599.0,287.0 581.0,342.0"/><polyline points="754.0,339.0 672.0,339.0 664.0,365.0"/><polyline points="733.0,590.0 637.0,590.0 602.0,432.0"/><polyline points="733.0,663.0 609.0,663.0 569.0,489.0"/><polyline points="733.0,750.0 583.0,750.0 573.0,706.0"/><polyline points="661.0,811.0 512.0,811.0 442.0,668.0"/><polyline points="512.0,811.0 473.0,637.0"/><polyline points="563.0,872.0 412.0,872.0 360.0,627.0"/><polyline points="14.0,762.0 147.0,762.0 177.0,568.0"/><polyline points="147.0,762.0 212.0,574.0"/><polyline points="107.0,804.0 213.0,804.0 249.0,640.0"/><polyline points="120.0,843.0 248.0,843.0 285.0,674.0"/><polyline points="134.0,872.0 283.0,872.0 327.0,669.0"/><path d="M124,232 A63,63 0 0 0 124,319"/></g>
<circle cx="327" cy="241" r="18" fill="#fde24d"/>
<g transform="rotate(-15 325 242)"><rect x="313" y="236" width="20" height="11" fill="#e63b67"/><rect x="313" y="236" width="20" height="3.5" fill="#f27092"/><ellipse cx="333" cy="241.5" rx="3.5" ry="5.5" fill="#f27092"/><ellipse cx="333" cy="241.5" rx="1.8" ry="3" fill="#b81f4a"/></g>
<text x="384" y="76" text-anchor="middle" font-family="Liberation Serif" font-weight="bold" font-size="40" fill="#1c4b6c" stroke="#1c4b6c" stroke-width="0.9" textLength="252" lengthAdjust="spacingAndGlyphs">Cell Anatomy</text>
<text x="384" y="124" text-anchor="middle" font-family="Liberation Serif" font-weight="bold" font-size="40" fill="#ababab" stroke="#ababab" stroke-width="0.9" textLength="204" lengthAdjust="spacingAndGlyphs">Worksheet</text>
<g font-family="Liberation Serif" font-weight="bold" font-size="13.6" fill="#37789a" stroke="#37789a" stroke-width="0.3" letter-spacing="0.25"><text x="38" y="922.5">Nucleus</text><text x="38" y="955.5">Nucleolus</text><text x="38" y="988.5">Nucleoplasm</text><text x="38" y="1021.5">Nuclear Envelope</text><text x="38" y="1054.5">Nuclear Pore</text><text x="174" y="922.5">Mitochondria</text><text x="174" y="955.5">Secretory Vesicle</text><text x="174" y="988.5">Golgi Apparatus</text><text x="174" y="1021.5">Cell Membrane</text><text x="174" y="1054.5">Microfilament</text><text x="319" y="922.5">Microvilli</text><text x="319" y="955.5">Cytoplasm</text><text x="319" y="988.5">Microtubule</text><text x="319" y="1021.5">Centersome</text><text x="319" y="1054.5">Peroxisome</text><text x="443" y="922.5">Ribosome</text><text x="443" y="955.5">Centriole</text><text x="443" y="988.5">Lysosome</text><text x="443" y="1021.5">Secretion Process</text><text x="443" y="1054.5">Intermediate Filaments</text><text x="601" y="921.6">Rough Endoplasmic</text><text x="601" y="936.8">Reticulum</text><text x="601" y="970.4">Smooth Endoplasmic</text><text x="601" y="985.7">Reticulum</text></g>
<path d="M26,17 L26,11 Q26,9 28,9 L32,9 M36,17 L36,23 Q36,25 34,25 L30,25" fill="none" stroke="#d6d6d6" stroke-width="2.6" stroke-linecap="round"/><path d="M23,235 L23,229 Q23,227 25,227 L29,227 M33,235 L33,241 Q33,243 31,243 L27,243" fill="none" stroke="#d6d6d6" stroke-width="2.6" stroke-linecap="round"/><path d="M23,450 L23,444 Q23,442 25,442 L29,442 M33,450 L33,456 Q33,458 31,458 L27,458" fill="none" stroke="#d6d6d6" stroke-width="2.6" stroke-linecap="round"/><path d="M509,235 L509,229 Q509,227 511,227 L515,227 M519,235 L519,241 Q519,243 517,243 L513,243" fill="none" stroke="#d6d6d6" stroke-width="2.6" stroke-linecap="round"/><path d="M752,665 L752,659 Q752,657 754,657 L758,657 M762,665 L762,671 Q762,673 760,673 L756,673" fill="none" stroke="#d6d6d6" stroke-width="2.6" stroke-linecap="round"/><path d="M512,877 L512,871 Q512,869 514,869 L518,869 M522,877 L522,883 Q522,885 520,885 L516,885" fill="none" stroke="#d6d6d6" stroke-width="2.6" stroke-linecap="round"/><path d="M752,880 L752,874 Q752,872 754,872 L758,872 M762,880 L762,886 Q762,888 760,888 L756,888" fill="none" stroke="#d6d6d6" stroke-width="2.6" stroke-linecap="round"/>
<g><rect x="261" y="0" width="29" height="30" fill="#bdbdbd" opacity="0.55"/><path d="M270,16 L270,10 Q270,8 272,8 L275,8 M281,14 L281,20 Q281,22 279,22 L276,22" fill="none" stroke="#fff" stroke-width="2.4" opacity="0.85"/></g><g><rect x="622" y="111" width="29" height="30" fill="#bdbdbd" opacity="0.55"/><path d="M631,127 L631,121 Q631,119 633,119 L636,119 M642,125 L642,131 Q642,133 640,133 L637,133" fill="none" stroke="#fff" stroke-width="2.4" opacity="0.85"/></g><g><rect x="741" y="220" width="29" height="30" fill="#bdbdbd" opacity="0.55"/><path d="M750,236 L750,230 Q750,228 752,228 L755,228 M761,234 L761,240 Q761,242 759,242 L756,242" fill="none" stroke="#fff" stroke-width="2.4" opacity="0.85"/></g><g><rect x="135" y="325" width="29" height="30" fill="#bdbdbd" opacity="0.55"/><path d="M144,341 L144,335 Q144,333 146,333 L149,333 M155,339 L155,345 Q155,347 153,347 L150,347" fill="none" stroke="#fff" stroke-width="2.4" opacity="0.85"/></g><g><rect x="381" y="327" width="29" height="30" fill="#bdbdbd" opacity="0.55"/><path d="M390,343 L390,337 Q390,335 392,335 L395,335 M401,341 L401,347 Q401,349 399,349 L396,349" fill="none" stroke="#fff" stroke-width="2.4" opacity="0.85"/></g><g><rect x="741" y="435" width="29" height="30" fill="#bdbdbd" opacity="0.55"/><path d="M750,451 L750,445 Q750,443 752,443 L755,443 M761,449 L761,455 Q761,457 759,457 L756,457" fill="none" stroke="#fff" stroke-width="2.4" opacity="0.85"/></g><g><rect x="621" y="541" width="29" height="30" fill="#bdbdbd" opacity="0.55"/><path d="M630,557 L630,551 Q630,549 632,549 L635,549 M641,555 L641,561 Q641,563 639,563 L636,563" fill="none" stroke="#fff" stroke-width="2.4" opacity="0.85"/></g><g><rect x="380" y="541" width="29" height="30" fill="#bdbdbd" opacity="0.55"/><path d="M389,557 L389,551 Q389,549 391,549 L394,549 M400,555 L400,561 Q400,563 398,563 L395,563" fill="none" stroke="#fff" stroke-width="2.4" opacity="0.85"/></g><g><rect x="13" y="649" width="29" height="30" fill="#bdbdbd" opacity="0.55"/><path d="M22,665 L22,659 Q22,657 24,657 L27,657 M33,663 L33,669 Q33,671 31,671 L28,671" fill="none" stroke="#fff" stroke-width="2.4" opacity="0.85"/></g><g><rect x="14" y="864" width="29" height="30" fill="#bdbdbd" opacity="0.55"/><path d="M23,880 L23,874 Q23,872 25,872 L28,872 M34,878 L34,884 Q34,886 32,886 L29,886" fill="none" stroke="#fff" stroke-width="2.4" opacity="0.85"/></g><g><rect x="259" y="862" width="29" height="30" fill="#bdbdbd" opacity="0.55"/><path d="M268,878 L268,872 Q268,870 270,870 L273,870 M279,876 L279,882 Q279,884 277,884 L274,884" fill="none" stroke="#fff" stroke-width="2.4" opacity="0.85"/></g><g><rect x="382" y="971" width="29" height="30" fill="#bdbdbd" opacity="0.55"/><path d="M391,987 L391,981 Q391,979 393,979 L396,979 M402,985 L402,991 Q402,993 400,993 L397,993" fill="none" stroke="#fff" stroke-width="2.4" opacity="0.85"/></g><g><rect x="624" y="971" width="29" height="30" fill="#bdbdbd" opacity="0.55"/><path d="M633,987 L633,981 Q633,979 635,979 L638,979 M644,985 L644,991 Q644,993 642,993 L639,993" fill="none" stroke="#fff" stroke-width="2.4" opacity="0.85"/></g><g><rect x="258" y="1070" width="29" height="30" fill="#bdbdbd" opacity="0.55"/><path d="M267,1086 L267,1080 Q267,1078 269,1078 L272,1078 M278,1084 L278,1090 Q278,1092 276,1092 L273,1092" fill="none" stroke="#fff" stroke-width="2.4" opacity="0.85"/></g><g><rect x="744" y="5" width="29" height="30" fill="#bdbdbd" opacity="0.55"/><path d="M753,21 L753,15 Q753,13 755,13 L758,13 M764,19 L764,25 Q764,27 762,27 L759,27" fill="none" stroke="#fff" stroke-width="2.4" opacity="0.85"/></g>
<text x="69.0" y="195.0" transform="rotate(-41.9 69.0 195.0)" font-family="Liberation Sans" font-weight="bold" font-size="24" fill="#fff" stroke="#dedede" stroke-width="0.9" textLength="207" lengthAdjust="spacingAndGlyphs" opacity="0.75">shutterstock</text>
<text x="397.0" y="130.0" transform="rotate(-41.7 397.0 130.0)" font-family="Liberation Sans" font-weight="bold" font-size="24" fill="#fff" stroke="#dedede" stroke-width="0.9" textLength="208" lengthAdjust="spacingAndGlyphs" opacity="0.5">shutterstock</text>
<text x="555.0" y="405.0" transform="rotate(-40.7 555.0 405.0)" font-family="Liberation Sans" font-weight="bold" font-size="24" fill="#fff" stroke="#e8d9b0" stroke-width="0.9" textLength="210" lengthAdjust="spacingAndGlyphs" opacity="0.55">shutterstock</text>
<text x="65.0" y="836.0" transform="rotate(-38.4 65.0 836.0)" font-family="Liberation Sans" font-weight="bold" font-size="24" fill="#fff" stroke="#e6e6e6" stroke-width="0.9" textLength="211" lengthAdjust="spacingAndGlyphs" opacity="0.55">shutterstock</text>
<text x="550.0" y="842.0" transform="rotate(-39.9 550.0 842.0)" font-family="Liberation Sans" font-weight="bold" font-size="24" fill="#fff" stroke="#e6e6e6" stroke-width="0.9" textLength="214" lengthAdjust="spacingAndGlyphs" opacity="0.6">shutterstock</text>
<text x="64.0" y="1048.0" transform="rotate(-39.7 64.0 1048.0)" font-family="Liberation Sans" font-weight="bold" font-size="24" fill="#fff" stroke="#e6e6e6" stroke-width="0.9" textLength="200" lengthAdjust="spacingAndGlyphs" opacity="0.8">shutterstock</text>
<text x="433.0" y="1164.0" transform="rotate(-41.9 433.0 1164.0)" font-family="Liberation Sans" font-weight="bold" font-size="24" fill="#fff" stroke="#e6e6e6" stroke-width="0.9" textLength="207" lengthAdjust="spacingAndGlyphs" opacity="0.8">shutterstock</text>
<text x="471.0" y="692.0" transform="rotate(-36.3 471.0 692.0)" font-family="Liberation Sans" font-weight="bold" font-size="17" fill="#fff" stroke="none" stroke-width="0.9" textLength="103" lengthAdjust="spacingAndGlyphs" opacity="0.6">VectorMine</text>
<text x="113.0" y="586.0" transform="rotate(-37.7 113.0 586.0)" font-family="Liberation Sans" font-weight="bold" font-size="17" fill="#fff" stroke="none" stroke-width="0.9" textLength="100" lengthAdjust="spacingAndGlyphs" opacity="0.55">VectorMine</text>
<text x="233.0" y="264.0" transform="rotate(-37.3 233.0 264.0)" font-family="Liberation Sans" font-weight="bold" font-size="17" fill="#fff" stroke="#e2e2e2" stroke-width="0.9" textLength="96" lengthAdjust="spacingAndGlyphs" opacity="0.9">VectorMine</text>
</svg>
<div class="footer">
<svg width="768" height="73" viewBox="0 0 768 73">
<g fill="#fff">
<text x="38.6" y="51.7" font-family="Liberation Sans" font-weight="bold" font-size="41" textLength="147.2" lengthAdjust="spacingAndGlyphs">shutterst</text>
<rect x="189.2" y="30.6" width="8.2" height="3.8" rx="0.8"/><rect x="189.2" y="30.6" width="3.8" height="11" rx="0.8"/>
<rect x="195.8" y="47.6" width="8.8" height="4.1" rx="0.8"/><rect x="200.8" y="39.5" width="3.8" height="12.2" rx="0.8"/>
<text x="208.5" y="51.7" font-family="Liberation Sans" font-weight="bold" font-size="41" textLength="36.8" lengthAdjust="spacingAndGlyphs">ck</text>
<circle cx="250" cy="31.6" r="2.4" fill="#d0d3d8"/>
</g>
<text x="730" y="32.8" text-anchor="end" font-family="Liberation Sans" font-size="12.2" fill="#c4c8ce" textLength="116" lengthAdjust="spacingAndGlyphs"><tspan font-weight="bold" fill="#e8eaed">IMAGE ID:</tspan> 1489815173</text>
<text x="730" y="49.6" text-anchor="end" font-family="Liberation Sans" font-size="11" fill="#b9bec5" textLength="103" lengthAdjust="spacingAndGlyphs">www.shutterstock.com</text>
</svg></div>
</body></html>
